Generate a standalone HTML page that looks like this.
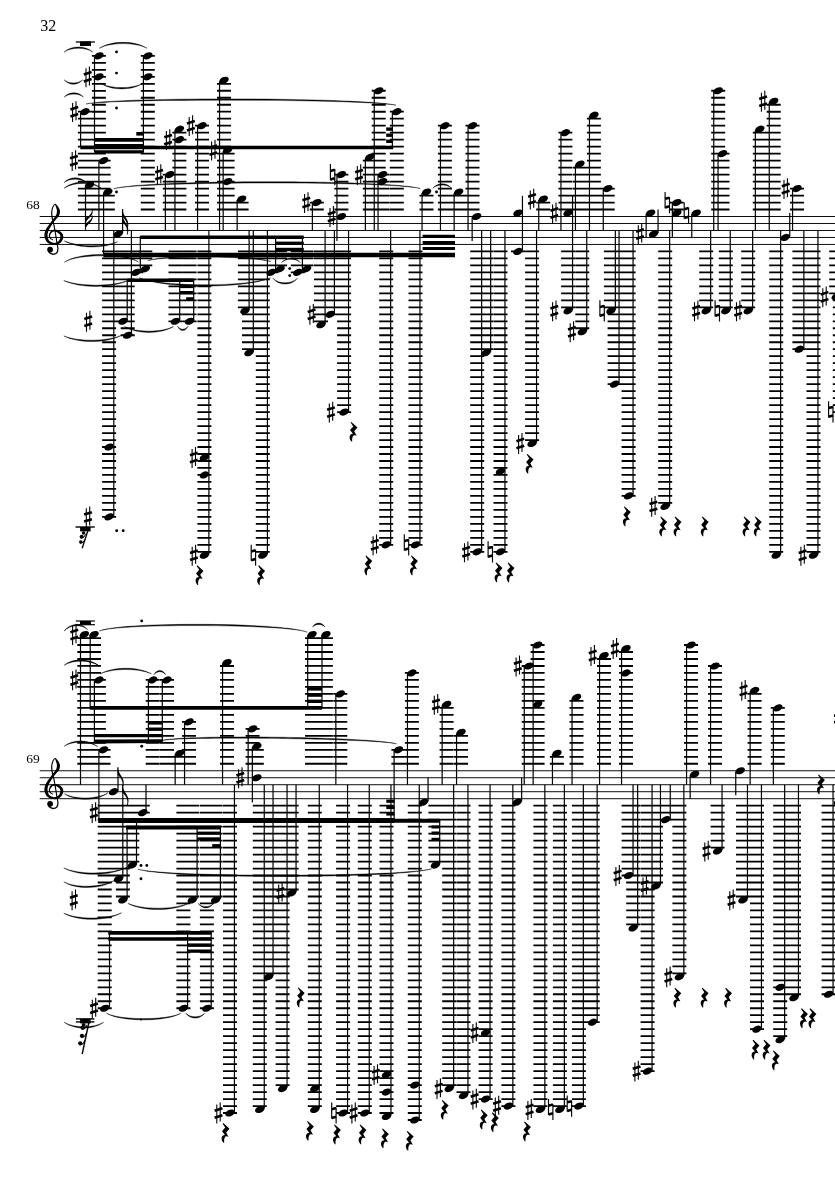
<!DOCTYPE html>
<html><head><meta charset="utf-8"><title>Score page 32</title>
<style>html,body{margin:0;padding:0;background:#fff}svg{display:block}</style></head>
<body><svg width="835" height="1181" viewBox="0 0 835 1181" shape-rendering="geometricPrecision">
<rect width="835" height="1181" fill="#fff"/>
<path d="M84.9 110.82V210.41M98.9 54.95V210.41M147.8 54.95V210.41M89.5 187.66V210.41M103.6 159.72V210.41M107.8 194.64V210.41M169.8 173.69V210.41M179.4 131.78V210.41M202.0 124.79V210.41M224.0 82.88V210.41M227.6 152.73V210.41M241.6 201.63V210.41M316.8 201.63V210.41M341.4 173.69V210.41M369.8 159.72V210.41M378.7 89.87V210.41M382.5 173.69V210.41M396.8 110.82V210.41M426.5 194.64V210.41M444.9 124.79V210.41M458.6 194.64V210.41M472.5 124.79V210.41M518.0 250.53V252.33M543.2 201.63V210.41M565.4 131.78V210.41M568.1 250.53V308.20M579.9 166.70V210.41M593.9 117.81V210.41M607.7 187.66V210.41M676.8 201.63V210.41M718.2 89.87V210.41M722.5 152.73V210.41M759.8 131.78V210.41M773.7 103.84V210.41M797.0 187.66V210.41M109.1 250.53V447.90M109.1 250.53V517.75M123.0 250.53V322.17M123.0 250.53V322.17M127.7 250.53V336.14M127.7 250.53V336.14M136.1 250.53V273.28M136.1 250.53V273.28M145.3 250.53V266.29M175.5 250.53V322.17M175.5 250.53V322.17M189.6 250.53V322.17M189.6 250.53V322.17M204.4 250.53V454.89M204.4 250.53V552.68M244.9 250.53V308.20M244.9 250.53V308.20M249.0 250.53V350.12M249.0 250.53V350.12M262.8 250.53V552.68M262.8 250.53V552.68M271.3 250.53V273.28M271.3 250.53V273.28M280.1 250.53V266.29M297.8 250.53V273.28M297.8 250.53V273.28M306.6 250.53V266.29M321.0 250.53V322.17M321.0 250.53V322.17M330.3 250.53V315.19M330.3 250.53V315.19M344.1 250.53V412.98M344.1 250.53V412.98M386.2 250.53V545.70M386.2 250.53V545.70M415.5 250.53V545.70M415.5 250.53V545.70M477.2 250.53V552.68M477.2 250.53V552.68M486.2 250.53V350.12M486.2 250.53V350.12M500.5 250.53V468.86M500.5 250.53V552.68M532.1 250.53V440.92M532.1 250.53V440.92M582.3 250.53V329.16M582.3 250.53V329.16M610.9 250.53V308.20M610.9 250.53V308.20M614.6 250.53V385.04M614.6 250.53V385.04M628.6 250.53V496.80M628.6 250.53V496.80M665.2 250.53V503.78M665.2 250.53V503.78M706.2 250.53V308.20M706.2 250.53V308.20M725.8 250.53V308.20M725.8 250.53V308.20M748.2 250.53V308.20M748.2 250.53V308.20M776.2 250.53V552.68M776.2 250.53V552.68M799.4 250.53V350.12M799.4 250.53V350.12M813.5 250.53V552.68M813.5 250.53V552.68M836.2 250.53V294.24M836.2 250.53V294.24M839.8 250.53V412.98M84.3 637.13V764.66M94.0 637.13V764.66M98.9 679.04V764.66M152.7 679.04V764.66M167.0 679.04V764.66M103.5 748.89V764.66M142.8 804.77V813.56M142.8 804.77V813.56M179.6 755.88V764.66M189.0 720.96V764.66M227.0 665.08V764.66M252.6 727.94V764.66M256.8 748.89V764.66M312.0 637.13V764.66M325.9 637.13V764.66M340.3 693.01V764.66M398.4 748.89V764.66M411.9 672.06V764.66M446.6 706.99V764.66M461.0 734.93V764.66M528.7 665.08V764.66M537.6 644.12V764.66M556.9 755.88V764.66M576.5 700.00V764.66M604.0 658.09V764.66M626.0 651.11V764.66M691.0 644.12V764.66M715.0 665.08V764.66M754.6 693.01V764.66M777.8 706.99V764.66M104.7 804.77V1009.14M104.7 804.77V1009.14M118.5 804.77V876.42M118.5 804.77V876.42M122.9 804.77V897.38M122.9 804.77V897.38M132.3 804.77V862.46M132.3 804.77V862.46M192.3 804.77V897.38M192.3 804.77V897.38M215.6 804.77V897.38M215.6 804.77V897.38M183.4 804.77V1009.14M183.4 804.77V1009.14M206.9 804.77V1009.14M206.9 804.77V1009.14M230.0 804.77V1113.92M230.0 804.77V1113.92M259.8 804.77V1106.93M259.8 804.77V1106.93M268.6 804.77V974.22M268.6 804.77V974.22M282.6 804.77V1085.98M282.6 804.77V1085.98M291.6 804.77V890.39M291.6 804.77V890.39M314.8 804.77V1085.98M314.8 804.77V1106.93M343.1 804.77V1113.92M343.1 804.77V1113.92M364.8 804.77V1113.92M364.8 804.77V1113.92M386.5 804.77V1072.01M386.5 804.77V1113.92M414.8 804.77V1085.98M414.8 804.77V1120.90M435.4 804.77V862.46M435.4 804.77V862.46M449.2 804.77V1085.98M449.2 804.77V1085.98M463.5 804.77V1092.96M463.5 804.77V1092.96M485.6 804.77V1030.10M485.6 804.77V1099.95M508.4 804.77V1106.93M508.4 804.77V1106.93M540.4 804.77V1106.93M540.4 804.77V1106.93M559.9 804.77V1106.93M559.9 804.77V1106.93M578.9 804.77V1106.93M578.9 804.77V1106.93M592.7 804.77V1023.11M592.7 804.77V1023.11M628.6 804.77V876.42M628.6 804.77V876.42M633.2 804.77V925.32M633.2 804.77V925.32M647.6 804.77V1072.01M647.6 804.77V1072.01M656.0 804.77V883.41M656.0 804.77V883.41M665.8 804.77V820.54M665.8 804.77V820.54M679.4 804.77V974.22M679.4 804.77V974.22M717.6 804.77V848.49M717.6 804.77V848.49M743.0 804.77V897.38M743.0 804.77V897.38M757.0 804.77V1030.10M757.0 804.77V1030.10M780.2 804.77V988.18M780.2 804.77V1037.08M794.0 804.77V995.17M794.0 804.77V995.17M828.6 804.77V995.17M828.6 804.77V995.17" stroke="#000" stroke-width="14.0" stroke-dasharray="1.8 5.1850000000000005" fill="none"/>
<g style="will-change:transform"><text x="40.3" y="31.2" font-family="'Liberation Serif', serif" font-size="16" fill="#000">32</text></g>
<g style="will-change:transform"><text x="26.2" y="209.2" font-family="'Liberation Serif', serif" font-size="13.5" fill="#000">68</text></g>
<g style="will-change:transform"><text x="26.2" y="763.2" font-family="'Liberation Serif', serif" font-size="13.5" fill="#000">69</text></g>
<line x1="39.70" y1="216.50" x2="835.00" y2="216.50" stroke="#000" stroke-width="0.95" stroke-linecap="butt"/>
<line x1="39.70" y1="223.49" x2="835.00" y2="223.49" stroke="#000" stroke-width="0.95" stroke-linecap="butt"/>
<line x1="39.70" y1="230.47" x2="835.00" y2="230.47" stroke="#000" stroke-width="0.95" stroke-linecap="butt"/>
<line x1="39.70" y1="237.46" x2="835.00" y2="237.46" stroke="#000" stroke-width="0.95" stroke-linecap="butt"/>
<line x1="39.70" y1="244.44" x2="835.00" y2="244.44" stroke="#000" stroke-width="0.95" stroke-linecap="butt"/>
<g transform="translate(55.00 237.46)"><path fill="#000" d="M-1.8 2.0 -2.1 1.8 -2.5 1.7 -2.9 1.5 -3.4 1.2 -3.7 1.0 -4.0 0.7 -4.3 0.4 -4.5 0.0 -4.8 -0.4 -4.9 -0.7 -5.0 -1.1 -5.0 -1.6 -4.9 -2.1 -4.7 -2.7 -4.4 -3.3 -4.0 -4.0 -3.6 -4.5 -3.2 -4.9 -2.8 -5.3 -2.3 -5.6 -1.7 -5.8 -1.2 -6.0 -0.6 -6.0 -0.1 -6.0 0.6 -5.8 1.5 -5.4 2.4 -4.9 3.3 -4.3 4.0 -3.7 4.6 -3.2 4.9 -2.7 5.1 -2.3 5.3 -1.8 5.4 -1.3 5.4 -0.8 5.4 -0.3 5.3 0.3 5.1 1.0 4.8 1.7 4.5 2.4 4.1 3.0 3.7 3.5 3.1 4.0 2.4 4.5 1.6 4.9 0.8 5.2 -0.1 5.4 -0.9 5.5 -1.7 5.4 -2.7 5.1 -3.6 4.8 -4.5 4.3 -5.2 3.8 -5.8 3.3 -6.2 2.7 -6.6 1.9 -6.9 1.0 -7.2 0.1 -7.3 -0.9 -7.4 -1.7 -7.5 -2.5 -7.4 -3.3 -7.3 -4.1 -7.1 -4.9 -6.8 -5.8 -6.5 -6.7 -6.1 -7.6 -5.6 -8.5 -5.1 -9.5 -4.5 -10.5 -3.8 -11.4 -3.2 -12.4 -2.6 -13.4 -1.9 -14.3 -1.2 -15.2 -0.6 -16.1 0.1 -17.0 0.7 -17.8 1.3 -18.5 1.9 -19.1 2.5 -19.7 3.0 -20.3 3.6 -21.0 4.0 -21.8 4.4 -22.6 4.6 -23.5 4.8 -24.3 4.9 -25.2 5.0 -26.0 4.9 -26.9 4.7 -27.7 4.4 -28.5 4.0 -29.3 3.6 -30.0 3.2 -30.6 2.8 -31.2 2.4 -31.7 2.0 -32.3 1.5 -32.8 1.1 -33.3 0.5 -33.6 -0.2 -33.7 -0.8 -33.3 -1.3 -32.8 -1.7 -32.1 -2.2 -31.4 -2.6 -30.6 -2.9 -29.8 -3.2 -29.0 -3.4 -28.2 -3.6 -27.3 -3.7 -26.5 -3.8 -25.5 -3.9 -24.6 -3.9 -23.7 -3.8 -22.7 -3.7 -21.8 -3.6 -20.8 -3.4 -19.8 -3.2 -18.7 -3.0 -17.6 -2.7 -16.4 -2.4 -15.2 -2.0 -14.0 -1.7 -12.7 -1.5 -11.5 -1.2 -10.2 -1.0 -8.9 -0.7 -7.6 -0.5 -6.3 -0.3 -5.0 -0.1 -3.6 0.2 -2.2 0.4 -0.7 0.7 0.8 0.9 2.3 1.1 3.7 1.3 5.0 1.6 6.2 1.8 7.4 2.0 8.5 2.2 9.6 2.3 10.5 2.3 11.4 2.2 12.2 2.1 12.9 1.9 13.6 1.7 14.2 1.4 14.7 1.1 15.0 0.7 15.4 0.3 15.7 -0.3 15.9 -0.9 16.1 -1.4 16.1 -1.9 16.1 -2.4 16.0 -3.0 15.8 -3.5 15.5 -4.1 15.2 -4.5 14.8 -4.9 14.5 -5.1 14.3 -5.2 14.0 -5.3 13.7 -5.4 13.4 -5.5 13.0 -5.6 12.8 -7.2 13.4 -7.2 13.6 -7.1 13.9 -6.9 14.3 -6.7 14.8 -6.4 15.2 -5.9 15.7 -5.4 16.0 -4.9 16.4 -4.2 16.8 -3.5 17.1 -2.8 17.3 -2.1 17.5 -1.3 17.4 -0.6 17.3 0.1 17.1 0.9 16.8 1.5 16.4 2.1 16.0 2.5 15.4 2.9 14.7 3.1 14.0 3.3 13.2 3.4 12.3 3.5 11.4 3.5 10.4 3.3 9.4 3.1 8.3 2.9 7.2 2.7 6.0 2.5 4.8 2.2 3.5 2.0 2.1 1.8 0.6 1.5 -0.9 1.3 -2.4 1.1 -3.8 0.8 -5.2 0.6 -6.5 0.4 -7.8 0.1 -9.1 -0.1 -10.4 -0.3 -11.7 -0.6 -13.0 -0.9 -14.2 -1.2 -15.5 -1.5 -16.7 -1.8 -17.8 -2.0 -18.9 -2.2 -20.0 -2.4 -21.0 -2.5 -21.9 -2.6 -22.8 -2.7 -23.7 -2.7 -24.6 -2.7 -25.5 -2.6 -26.3 -2.5 -27.1 -2.3 -27.9 -2.1 -28.7 -1.9 -29.4 -1.6 -30.1 -1.3 -30.9 -0.9 -31.6 -0.5 -32.2 -0.2 -32.6 0.0 -32.7 0.0 -32.7 0.2 -32.4 0.4 -32.0 0.6 -31.5 0.8 -30.8 1.0 -30.2 1.2 -29.6 1.4 -29.0 1.6 -28.3 1.8 -27.7 1.9 -27.1 1.9 -26.5 1.9 -26.0 1.9 -25.4 1.8 -24.8 1.7 -24.2 1.6 -23.6 1.4 -23.0 1.1 -22.5 0.8 -21.9 0.5 -21.3 -0.0 -20.7 -0.5 -20.0 -1.1 -19.2 -1.7 -18.4 -2.4 -17.5 -3.1 -16.6 -3.8 -15.7 -4.5 -14.7 -5.2 -13.8 -5.9 -12.9 -6.6 -11.9 -7.3 -10.9 -8.0 -9.9 -8.6 -8.9 -9.1 -7.9 -9.6 -6.9 -10.0 -5.8 -10.3 -4.8 -10.5 -3.7 -10.6 -2.6 -10.6 -1.5 -10.4 -0.3 -10.1 0.8 -9.6 2.0 -9.1 3.1 -8.4 4.2 -7.6 5.1 -6.6 5.8 -5.5 6.4 -4.4 6.9 -3.2 7.2 -2.0 7.4 -0.9 7.5 0.2 7.5 1.3 7.3 2.4 7.0 3.5 6.6 4.5 6.1 5.3 5.5 6.1 4.7 6.8 3.8 7.3 2.9 7.7 2.0 8.1 1.0 8.2 0.1 8.3 -0.8 8.2 -1.7 8.0 -2.6 7.6 -3.5 7.1 -4.3 6.4 -5.0 5.6 -5.7 4.6 -6.4 3.5 -6.9 2.4 -7.4 1.3 -7.8 0.3 -8.0 -0.7 -8.0 -1.6 -7.8 -2.4 -7.5 -3.2 -7.1 -3.8 -6.6 -4.4 -6.1 -4.9 -5.4 -5.3 -4.7 -5.7 -3.9 -5.9 -3.1 -6.1 -2.4 -6.2 -1.6 -6.2 -1.0 -6.0 -0.4 -5.8 0.2 -5.5 0.7 -5.1 1.1 -4.8 1.5 -4.4 1.8 -3.8 2.1 -3.3 2.4 -2.9 2.6 -2.5 2.7 -2.2 2.8Z"/><circle cx="-4.9" cy="12.1" r="2.9" fill="#000"/></g>
<line x1="39.70" y1="770.75" x2="835.00" y2="770.75" stroke="#000" stroke-width="0.95" stroke-linecap="butt"/>
<line x1="39.70" y1="777.74" x2="835.00" y2="777.74" stroke="#000" stroke-width="0.95" stroke-linecap="butt"/>
<line x1="39.70" y1="784.72" x2="835.00" y2="784.72" stroke="#000" stroke-width="0.95" stroke-linecap="butt"/>
<line x1="39.70" y1="791.71" x2="835.00" y2="791.71" stroke="#000" stroke-width="0.95" stroke-linecap="butt"/>
<line x1="39.70" y1="798.69" x2="835.00" y2="798.69" stroke="#000" stroke-width="0.95" stroke-linecap="butt"/>
<g transform="translate(55.00 791.71)"><path fill="#000" d="M-1.8 2.0 -2.1 1.8 -2.5 1.7 -2.9 1.5 -3.4 1.2 -3.7 1.0 -4.0 0.7 -4.3 0.4 -4.5 0.0 -4.8 -0.4 -4.9 -0.7 -5.0 -1.1 -5.0 -1.6 -4.9 -2.1 -4.7 -2.7 -4.4 -3.3 -4.0 -4.0 -3.6 -4.5 -3.2 -4.9 -2.8 -5.3 -2.3 -5.6 -1.7 -5.8 -1.2 -6.0 -0.6 -6.0 -0.1 -6.0 0.6 -5.8 1.5 -5.4 2.4 -4.9 3.3 -4.3 4.0 -3.7 4.6 -3.2 4.9 -2.7 5.1 -2.3 5.3 -1.8 5.4 -1.3 5.4 -0.8 5.4 -0.3 5.3 0.3 5.1 1.0 4.8 1.7 4.5 2.4 4.1 3.0 3.7 3.5 3.1 4.0 2.4 4.5 1.6 4.9 0.8 5.2 -0.1 5.4 -0.9 5.5 -1.7 5.4 -2.7 5.1 -3.6 4.8 -4.5 4.3 -5.2 3.8 -5.8 3.3 -6.2 2.7 -6.6 1.9 -6.9 1.0 -7.2 0.1 -7.3 -0.9 -7.4 -1.7 -7.5 -2.5 -7.4 -3.3 -7.3 -4.1 -7.1 -4.9 -6.8 -5.8 -6.5 -6.7 -6.1 -7.6 -5.6 -8.5 -5.1 -9.5 -4.5 -10.5 -3.8 -11.4 -3.2 -12.4 -2.6 -13.4 -1.9 -14.3 -1.2 -15.2 -0.6 -16.1 0.1 -17.0 0.7 -17.8 1.3 -18.5 1.9 -19.1 2.5 -19.7 3.0 -20.3 3.6 -21.0 4.0 -21.8 4.4 -22.6 4.6 -23.5 4.8 -24.3 4.9 -25.2 5.0 -26.0 4.9 -26.9 4.7 -27.7 4.4 -28.5 4.0 -29.3 3.6 -30.0 3.2 -30.6 2.8 -31.2 2.4 -31.7 2.0 -32.3 1.5 -32.8 1.1 -33.3 0.5 -33.6 -0.2 -33.7 -0.8 -33.3 -1.3 -32.8 -1.7 -32.1 -2.2 -31.4 -2.6 -30.6 -2.9 -29.8 -3.2 -29.0 -3.4 -28.2 -3.6 -27.3 -3.7 -26.5 -3.8 -25.5 -3.9 -24.6 -3.9 -23.7 -3.8 -22.7 -3.7 -21.8 -3.6 -20.8 -3.4 -19.8 -3.2 -18.7 -3.0 -17.6 -2.7 -16.4 -2.4 -15.2 -2.0 -14.0 -1.7 -12.7 -1.5 -11.5 -1.2 -10.2 -1.0 -8.9 -0.7 -7.6 -0.5 -6.3 -0.3 -5.0 -0.1 -3.6 0.2 -2.2 0.4 -0.7 0.7 0.8 0.9 2.3 1.1 3.7 1.3 5.0 1.6 6.2 1.8 7.4 2.0 8.5 2.2 9.6 2.3 10.5 2.3 11.4 2.2 12.2 2.1 12.9 1.9 13.6 1.7 14.2 1.4 14.7 1.1 15.0 0.7 15.4 0.3 15.7 -0.3 15.9 -0.9 16.1 -1.4 16.1 -1.9 16.1 -2.4 16.0 -3.0 15.8 -3.5 15.5 -4.1 15.2 -4.5 14.8 -4.9 14.5 -5.1 14.3 -5.2 14.0 -5.3 13.7 -5.4 13.4 -5.5 13.0 -5.6 12.8 -7.2 13.4 -7.2 13.6 -7.1 13.9 -6.9 14.3 -6.7 14.8 -6.4 15.2 -5.9 15.7 -5.4 16.0 -4.9 16.4 -4.2 16.8 -3.5 17.1 -2.8 17.3 -2.1 17.5 -1.3 17.4 -0.6 17.3 0.1 17.1 0.9 16.8 1.5 16.4 2.1 16.0 2.5 15.4 2.9 14.7 3.1 14.0 3.3 13.2 3.4 12.3 3.5 11.4 3.5 10.4 3.3 9.4 3.1 8.3 2.9 7.2 2.7 6.0 2.5 4.8 2.2 3.5 2.0 2.1 1.8 0.6 1.5 -0.9 1.3 -2.4 1.1 -3.8 0.8 -5.2 0.6 -6.5 0.4 -7.8 0.1 -9.1 -0.1 -10.4 -0.3 -11.7 -0.6 -13.0 -0.9 -14.2 -1.2 -15.5 -1.5 -16.7 -1.8 -17.8 -2.0 -18.9 -2.2 -20.0 -2.4 -21.0 -2.5 -21.9 -2.6 -22.8 -2.7 -23.7 -2.7 -24.6 -2.7 -25.5 -2.6 -26.3 -2.5 -27.1 -2.3 -27.9 -2.1 -28.7 -1.9 -29.4 -1.6 -30.1 -1.3 -30.9 -0.9 -31.6 -0.5 -32.2 -0.2 -32.6 0.0 -32.7 0.0 -32.7 0.2 -32.4 0.4 -32.0 0.6 -31.5 0.8 -30.8 1.0 -30.2 1.2 -29.6 1.4 -29.0 1.6 -28.3 1.8 -27.7 1.9 -27.1 1.9 -26.5 1.9 -26.0 1.9 -25.4 1.8 -24.8 1.7 -24.2 1.6 -23.6 1.4 -23.0 1.1 -22.5 0.8 -21.9 0.5 -21.3 -0.0 -20.7 -0.5 -20.0 -1.1 -19.2 -1.7 -18.4 -2.4 -17.5 -3.1 -16.6 -3.8 -15.7 -4.5 -14.7 -5.2 -13.8 -5.9 -12.9 -6.6 -11.9 -7.3 -10.9 -8.0 -9.9 -8.6 -8.9 -9.1 -7.9 -9.6 -6.9 -10.0 -5.8 -10.3 -4.8 -10.5 -3.7 -10.6 -2.6 -10.6 -1.5 -10.4 -0.3 -10.1 0.8 -9.6 2.0 -9.1 3.1 -8.4 4.2 -7.6 5.1 -6.6 5.8 -5.5 6.4 -4.4 6.9 -3.2 7.2 -2.0 7.4 -0.9 7.5 0.2 7.5 1.3 7.3 2.4 7.0 3.5 6.6 4.5 6.1 5.3 5.5 6.1 4.7 6.8 3.8 7.3 2.9 7.7 2.0 8.1 1.0 8.2 0.1 8.3 -0.8 8.2 -1.7 8.0 -2.6 7.6 -3.5 7.1 -4.3 6.4 -5.0 5.6 -5.7 4.6 -6.4 3.5 -6.9 2.4 -7.4 1.3 -7.8 0.3 -8.0 -0.7 -8.0 -1.6 -7.8 -2.4 -7.5 -3.2 -7.1 -3.8 -6.6 -4.4 -6.1 -4.9 -5.4 -5.3 -4.7 -5.7 -3.9 -5.9 -3.1 -6.1 -2.4 -6.2 -1.6 -6.2 -1.0 -6.0 -0.4 -5.8 0.2 -5.5 0.7 -5.1 1.1 -4.8 1.5 -4.4 1.8 -3.8 2.1 -3.3 2.4 -2.9 2.6 -2.5 2.7 -2.2 2.8Z"/><circle cx="-4.9" cy="12.1" r="2.9" fill="#000"/></g>
<line x1="75.80" y1="42.00" x2="94.90" y2="42.00" stroke="#000" stroke-width="1.3" stroke-linecap="butt"/>
<rect x="80.00" y="41.40" width="11.00" height="4.60" fill="#000"/>
<path d="M64.20 52.00C71.33 47.07 85.58 47.07 92.70 52.00C85.58 45.37 71.33 45.37 64.20 52.00Z" fill="#000" stroke="#000" stroke-width="0.4"/>
<path d="M64.20 79.80C68.80 84.07 78.00 84.07 82.60 79.80C78.00 85.77 68.80 85.77 64.20 79.80Z" fill="#000" stroke="#000" stroke-width="0.4"/>
<path d="M64.20 97.10C69.03 93.10 78.67 93.10 83.50 97.10C78.67 91.40 69.03 91.40 64.20 97.10Z" fill="#000" stroke="#000" stroke-width="0.4"/>
<ellipse cx="84.90" cy="111.72" rx="5.0" ry="3.25" transform="rotate(-24 84.90 111.72)" fill="#000"/>
<line x1="80.60" y1="112.72" x2="80.60" y2="147.00" stroke="#000" stroke-width="1.2" stroke-linecap="butt"/>
<g transform="translate(74.30 111.72)" stroke="#000" fill="none"><path d="M-1.7 -8.6V10.4M1.7 -10.4V8.6" stroke-width="1.1"/><path d="M-3.9 -2.3L3.9 -4.7M-3.9 4.7L3.9 2.3" stroke-width="2.6"/></g>
<ellipse cx="98.90" cy="55.84" rx="5.0" ry="3.25" transform="rotate(-24 98.90 55.84)" fill="#000"/>
<ellipse cx="98.90" cy="76.80" rx="5.0" ry="3.25" transform="rotate(-24 98.90 76.80)" fill="#000"/>
<line x1="94.50" y1="56.84" x2="94.50" y2="152.00" stroke="#000" stroke-width="1.2" stroke-linecap="butt"/>
<g transform="translate(87.70 76.80)" stroke="#000" fill="none"><path d="M-1.7 -8.6V10.4M1.7 -10.4V8.6" stroke-width="1.1"/><path d="M-3.9 -2.3L3.9 -4.7M-3.9 4.7L3.9 2.3" stroke-width="2.6"/></g>
<ellipse cx="147.80" cy="55.84" rx="5.0" ry="3.25" transform="rotate(-24 147.80 55.84)" fill="#000"/>
<ellipse cx="147.80" cy="76.80" rx="5.0" ry="3.25" transform="rotate(-24 147.80 76.80)" fill="#000"/>
<line x1="143.40" y1="56.84" x2="143.40" y2="152.00" stroke="#000" stroke-width="1.2" stroke-linecap="butt"/>
<path d="M99.40 48.20C111.28 42.07 135.03 42.07 146.90 48.20C135.03 40.37 111.28 40.37 99.40 48.20Z" fill="#000" stroke="#000" stroke-width="0.4"/>
<path d="M100.50 83.20C111.12 89.07 132.38 89.07 143.00 83.20C132.38 90.77 111.12 90.77 100.50 83.20Z" fill="#000" stroke="#000" stroke-width="0.4"/>
<circle cx="116.50" cy="51.90" r="1.45" fill="#000"/>
<circle cx="116.50" cy="73.10" r="1.45" fill="#000"/>
<circle cx="116.50" cy="108.00" r="1.45" fill="#000"/>
<polygon points="80.30,145.80 393.20,145.80 393.20,149.30 80.30,149.30" fill="#000"/>
<polygon points="94.40,138.10 143.80,138.10 143.80,141.70 94.40,141.70" fill="#000"/>
<polygon points="94.40,144.10 143.80,144.10 143.80,147.60 94.40,147.60" fill="#000"/>
<polygon points="94.40,150.30 143.80,150.30 143.80,153.50 94.40,153.50" fill="#000"/>
<polygon points="136.30,132.00 143.80,132.00 143.80,135.60 136.30,135.60" fill="#000"/>
<polygon points="386.20,127.40 393.00,127.40 393.00,130.80 386.20,130.80" fill="#000"/>
<polygon points="386.20,133.50 393.00,133.50 393.00,136.90 386.20,136.90" fill="#000"/>
<polygon points="386.20,139.60 393.00,139.60 393.00,143.00 386.20,143.00" fill="#000"/>
<path d="M86.00 104.00C117.00 98.25 365.00 99.21 396.00 105.20C365.00 97.51 117.00 96.55 86.00 104.00Z" fill="#000" stroke="#000" stroke-width="0.4"/>
<path d="M113.70 188.70C144.35 181.21 389.55 181.05 420.20 188.50C389.55 179.35 144.35 179.51 113.70 188.70Z" fill="#000" stroke="#000" stroke-width="0.4"/>
<ellipse cx="89.50" cy="185.07" rx="5.0" ry="3.25" transform="rotate(-24 89.50 185.07)" fill="#000"/>
<line x1="85.50" y1="186.07" x2="85.50" y2="229.80" stroke="#000" stroke-width="1.2" stroke-linecap="butt"/>
<path fill="#000" d="M85.00 229.80c0.4 -3 3 -5 5.4 -7.6c2.2 -2.6 2.6 -4.6 2.2 -6.8l-0.7 0c0.2 2.2 -0.8 3.6 -2.4 5.2c-1.6 1.6 -3.4 2.4 -4.5 3z"/>
<path fill="#000" d="M85.00 224.40c0.4 -3 3 -5 5.4 -7.6c2.2 -2.6 2.6 -4.6 2.2 -6.8l-0.7 0c0.2 2.2 -0.8 3.6 -2.4 5.2c-1.6 1.6 -3.4 2.4 -4.5 3z"/>
<ellipse cx="103.60" cy="160.62" rx="5.0" ry="3.25" transform="rotate(-24 103.60 160.62)" fill="#000"/>
<line x1="98.90" y1="161.62" x2="98.90" y2="230.47" stroke="#000" stroke-width="1.2" stroke-linecap="butt"/>
<g transform="translate(73.90 160.62)" stroke="#000" fill="none"><path d="M-1.7 -8.6V10.4M1.7 -10.4V8.6" stroke-width="1.1"/><path d="M-3.9 -2.3L3.9 -4.7M-3.9 4.7L3.9 2.3" stroke-width="2.6"/></g>
<ellipse cx="107.80" cy="192.05" rx="5.0" ry="3.25" transform="rotate(-24 107.80 192.05)" fill="#000"/>
<line x1="103.60" y1="193.05" x2="103.60" y2="254.00" stroke="#000" stroke-width="1.2" stroke-linecap="butt"/>
<circle cx="116.50" cy="192.00" r="1.45" fill="#000"/>
<path d="M64.20 182.50C69.85 177.82 81.15 178.07 86.80 183.00C81.15 176.38 69.85 176.12 64.20 182.50Z" fill="#000" stroke="#000" stroke-width="0.4"/>
<path d="M64.20 188.20C73.65 181.68 92.55 181.98 102.00 188.80C92.55 180.28 73.65 179.98 64.20 188.20Z" fill="#000" stroke="#000" stroke-width="0.4"/>
<ellipse cx="118.30" cy="233.96" rx="5.0" ry="3.25" transform="rotate(-24 118.30 233.96)" fill="#000"/>
<line x1="122.60" y1="232.96" x2="122.60" y2="209.00" stroke="#000" stroke-width="1.2" stroke-linecap="butt"/>
<path fill="#000" d="M122.10 209.00c0.3 3.5 2.5 6.5 4.6 10c2 3.5 2.1 7 0.7 10.4l-0.7 -0.2c1 -3.2 0.6 -6.2 -1.2 -8.8c-1.2 -2 -2.6 -3.2 -3.4 -3.8z"/>
<path fill="#000" d="M122.10 214.40c0.3 3.5 2.5 6.5 4.6 10c2 3.5 2.1 7 0.7 10.4l-0.7 -0.2c1 -3.2 0.6 -6.2 -1.2 -8.8c-1.2 -2 -2.6 -3.2 -3.4 -3.8z"/>
<path d="M64.40 241.00C77.68 246.93 104.22 247.33 117.50 241.80C104.22 249.03 77.68 248.63 64.40 241.00Z" fill="#000" stroke="#000" stroke-width="0.4"/>
<ellipse cx="169.80" cy="174.59" rx="5.0" ry="3.25" transform="rotate(-24 169.80 174.59)" fill="#000"/>
<line x1="165.35" y1="175.59" x2="165.35" y2="230.47" stroke="#000" stroke-width="1.2" stroke-linecap="butt"/>
<g transform="translate(159.10 174.59)" stroke="#000" fill="none"><path d="M-1.7 -8.6V10.4M1.7 -10.4V8.6" stroke-width="1.1"/><path d="M-3.9 -2.3L3.9 -4.7M-3.9 4.7L3.9 2.3" stroke-width="2.6"/></g>
<ellipse cx="179.40" cy="129.19" rx="5.0" ry="3.25" transform="rotate(-24 179.40 129.19)" fill="#000"/>
<ellipse cx="179.40" cy="139.66" rx="5.0" ry="3.25" transform="rotate(-24 179.40 139.66)" fill="#000"/>
<line x1="174.95" y1="130.19" x2="174.95" y2="230.47" stroke="#000" stroke-width="1.2" stroke-linecap="butt"/>
<g transform="translate(168.10 139.66)" stroke="#000" fill="none"><path d="M-1.7 -8.6V10.4M1.7 -10.4V8.6" stroke-width="1.1"/><path d="M-3.9 -2.3L3.9 -4.7M-3.9 4.7L3.9 2.3" stroke-width="2.6"/></g>
<ellipse cx="202.00" cy="125.69" rx="5.0" ry="3.25" transform="rotate(-24 202.00 125.69)" fill="#000"/>
<line x1="197.55" y1="126.69" x2="197.55" y2="230.47" stroke="#000" stroke-width="1.2" stroke-linecap="butt"/>
<g transform="translate(190.90 125.69)" stroke="#000" fill="none"><path d="M-1.7 -8.6V10.4M1.7 -10.4V8.6" stroke-width="1.1"/><path d="M-3.9 -2.3L3.9 -4.7M-3.9 4.7L3.9 2.3" stroke-width="2.6"/></g>
<ellipse cx="224.00" cy="80.29" rx="5.0" ry="3.25" transform="rotate(-24 224.00 80.29)" fill="#000"/>
<line x1="219.55" y1="81.29" x2="219.55" y2="230.47" stroke="#000" stroke-width="1.2" stroke-linecap="butt"/>
<ellipse cx="227.60" cy="150.14" rx="5.0" ry="3.25" transform="rotate(-24 227.60 150.14)" fill="#000"/>
<ellipse cx="227.60" cy="181.57" rx="5.0" ry="3.25" transform="rotate(-24 227.60 181.57)" fill="#000"/>
<line x1="223.15" y1="151.14" x2="223.15" y2="230.47" stroke="#000" stroke-width="1.2" stroke-linecap="butt"/>
<g transform="translate(213.30 150.14)" stroke="#000" fill="none"><path d="M-1.7 -8.6V10.4M1.7 -10.4V8.6" stroke-width="1.1"/><path d="M-3.9 -2.3L3.9 -4.7M-3.9 4.7L3.9 2.3" stroke-width="2.6"/></g>
<ellipse cx="241.60" cy="199.04" rx="5.0" ry="3.25" transform="rotate(-24 241.60 199.04)" fill="#000"/>
<line x1="237.15" y1="200.04" x2="237.15" y2="230.47" stroke="#000" stroke-width="1.2" stroke-linecap="butt"/>
<ellipse cx="316.80" cy="202.53" rx="5.0" ry="3.25" transform="rotate(-24 316.80 202.53)" fill="#000"/>
<line x1="312.35" y1="203.53" x2="312.35" y2="230.47" stroke="#000" stroke-width="1.2" stroke-linecap="butt"/>
<g transform="translate(306.30 202.53)" stroke="#000" fill="none"><path d="M-1.7 -8.6V10.4M1.7 -10.4V8.6" stroke-width="1.1"/><path d="M-3.9 -2.3L3.9 -4.7M-3.9 4.7L3.9 2.3" stroke-width="2.6"/></g>
<ellipse cx="341.40" cy="174.59" rx="5.0" ry="3.25" transform="rotate(-24 341.40 174.59)" fill="#000"/>
<ellipse cx="341.40" cy="216.50" rx="5.0" ry="3.25" transform="rotate(-24 341.40 216.50)" fill="#000"/>
<line x1="336.95" y1="175.59" x2="336.95" y2="240.95" stroke="#000" stroke-width="1.2" stroke-linecap="butt"/>
<g transform="translate(332.60 174.59)" stroke="#000" fill="none"><path d="M-2.2 -10.6V5.6M2.2 -5.6V10.6" stroke-width="1.15"/><path d="M-2.2 4.9L2.2 3.7M-2.2 -3.7L2.2 -4.9" stroke-width="2.6"/></g>
<g transform="translate(331.70 216.50)" stroke="#000" fill="none"><path d="M-1.7 -8.6V10.4M1.7 -10.4V8.6" stroke-width="1.1"/><path d="M-3.9 -2.3L3.9 -4.7M-3.9 4.7L3.9 2.3" stroke-width="2.6"/></g>
<ellipse cx="369.80" cy="157.13" rx="5.0" ry="3.25" transform="rotate(-24 369.80 157.13)" fill="#000"/>
<line x1="365.35" y1="158.13" x2="365.35" y2="230.47" stroke="#000" stroke-width="1.2" stroke-linecap="butt"/>
<ellipse cx="378.70" cy="90.77" rx="5.0" ry="3.25" transform="rotate(-24 378.70 90.77)" fill="#000"/>
<line x1="374.25" y1="91.77" x2="374.25" y2="230.47" stroke="#000" stroke-width="1.2" stroke-linecap="butt"/>
<ellipse cx="382.50" cy="174.59" rx="5.0" ry="3.25" transform="rotate(-24 382.50 174.59)" fill="#000"/>
<ellipse cx="382.50" cy="181.57" rx="5.0" ry="3.25" transform="rotate(-24 382.50 181.57)" fill="#000"/>
<line x1="378.05" y1="175.59" x2="378.05" y2="230.47" stroke="#000" stroke-width="1.2" stroke-linecap="butt"/>
<g transform="translate(359.00 174.59)" stroke="#000" fill="none"><path d="M-1.7 -8.6V10.4M1.7 -10.4V8.6" stroke-width="1.1"/><path d="M-3.9 -2.3L3.9 -4.7M-3.9 4.7L3.9 2.3" stroke-width="2.6"/></g>
<ellipse cx="396.80" cy="111.72" rx="5.0" ry="3.25" transform="rotate(-24 396.80 111.72)" fill="#000"/>
<line x1="392.35" y1="112.72" x2="392.35" y2="148.00" stroke="#000" stroke-width="1.2" stroke-linecap="butt"/>
<ellipse cx="426.50" cy="192.05" rx="5.0" ry="3.25" transform="rotate(-24 426.50 192.05)" fill="#000"/>
<line x1="422.05" y1="193.05" x2="422.05" y2="230.47" stroke="#000" stroke-width="1.2" stroke-linecap="butt"/>
<circle cx="436.50" cy="192.00" r="1.45" fill="#000"/>
<path d="M432.80 188.30C437.50 184.03 446.90 184.03 451.60 188.30C446.90 182.33 437.50 182.33 432.80 188.30Z" fill="#000" stroke="#000" stroke-width="0.4"/>
<ellipse cx="444.90" cy="125.69" rx="5.0" ry="3.25" transform="rotate(-24 444.90 125.69)" fill="#000"/>
<line x1="440.45" y1="126.69" x2="440.45" y2="230.47" stroke="#000" stroke-width="1.2" stroke-linecap="butt"/>
<ellipse cx="458.60" cy="192.05" rx="5.0" ry="3.25" transform="rotate(-24 458.60 192.05)" fill="#000"/>
<line x1="454.15" y1="193.05" x2="454.15" y2="230.47" stroke="#000" stroke-width="1.2" stroke-linecap="butt"/>
<ellipse cx="472.50" cy="125.69" rx="5.0" ry="3.25" transform="rotate(-24 472.50 125.69)" fill="#000"/>
<line x1="468.05" y1="126.69" x2="468.05" y2="230.47" stroke="#000" stroke-width="1.2" stroke-linecap="butt"/>
<ellipse cx="476.60" cy="216.50" rx="5.0" ry="3.25" transform="rotate(-24 476.60 216.50)" fill="#000"/>
<line x1="472.15" y1="217.50" x2="472.15" y2="240.95" stroke="#000" stroke-width="1.2" stroke-linecap="butt"/>
<ellipse cx="518.00" cy="213.01" rx="5.0" ry="3.25" transform="rotate(-24 518.00 213.01)" fill="#000"/>
<ellipse cx="518.00" cy="251.43" rx="5.0" ry="3.25" transform="rotate(-24 518.00 251.43)" fill="#000"/>
<line x1="522.45" y1="250.43" x2="522.45" y2="195.80" stroke="#000" stroke-width="1.2" stroke-linecap="butt"/>
<ellipse cx="543.20" cy="199.04" rx="5.0" ry="3.25" transform="rotate(-24 543.20 199.04)" fill="#000"/>
<line x1="538.75" y1="200.04" x2="538.75" y2="230.47" stroke="#000" stroke-width="1.2" stroke-linecap="butt"/>
<g transform="translate(532.00 199.04)" stroke="#000" fill="none"><path d="M-1.7 -8.6V10.4M1.7 -10.4V8.6" stroke-width="1.1"/><path d="M-3.9 -2.3L3.9 -4.7M-3.9 4.7L3.9 2.3" stroke-width="2.6"/></g>
<ellipse cx="565.40" cy="132.68" rx="5.0" ry="3.25" transform="rotate(-24 565.40 132.68)" fill="#000"/>
<line x1="560.95" y1="133.68" x2="560.95" y2="230.47" stroke="#000" stroke-width="1.2" stroke-linecap="butt"/>
<ellipse cx="568.10" cy="213.01" rx="5.0" ry="3.25" transform="rotate(-24 568.10 213.01)" fill="#000"/>
<ellipse cx="568.10" cy="310.80" rx="5.0" ry="3.25" transform="rotate(-24 568.10 310.80)" fill="#000"/>
<line x1="572.55" y1="309.80" x2="572.55" y2="195.00" stroke="#000" stroke-width="1.2" stroke-linecap="butt"/>
<g transform="translate(554.30 213.01)" stroke="#000" fill="none"><path d="M-1.7 -8.6V10.4M1.7 -10.4V8.6" stroke-width="1.1"/><path d="M-3.9 -2.3L3.9 -4.7M-3.9 4.7L3.9 2.3" stroke-width="2.6"/></g>
<g transform="translate(554.30 310.80)" stroke="#000" fill="none"><path d="M-1.7 -8.6V10.4M1.7 -10.4V8.6" stroke-width="1.1"/><path d="M-3.9 -2.3L3.9 -4.7M-3.9 4.7L3.9 2.3" stroke-width="2.6"/></g>
<ellipse cx="579.90" cy="164.11" rx="5.0" ry="3.25" transform="rotate(-24 579.90 164.11)" fill="#000"/>
<line x1="575.45" y1="165.11" x2="575.45" y2="230.47" stroke="#000" stroke-width="1.2" stroke-linecap="butt"/>
<ellipse cx="593.90" cy="115.22" rx="5.0" ry="3.25" transform="rotate(-24 593.90 115.22)" fill="#000"/>
<line x1="589.45" y1="116.22" x2="589.45" y2="230.47" stroke="#000" stroke-width="1.2" stroke-linecap="butt"/>
<ellipse cx="607.70" cy="188.56" rx="5.0" ry="3.25" transform="rotate(-24 607.70 188.56)" fill="#000"/>
<line x1="603.25" y1="189.56" x2="603.25" y2="230.47" stroke="#000" stroke-width="1.2" stroke-linecap="butt"/>
<ellipse cx="650.60" cy="213.01" rx="5.0" ry="3.25" transform="rotate(-24 650.60 213.01)" fill="#000"/>
<line x1="646.15" y1="214.01" x2="646.15" y2="237.45" stroke="#000" stroke-width="1.2" stroke-linecap="butt"/>
<ellipse cx="653.60" cy="233.96" rx="5.0" ry="3.25" transform="rotate(-24 653.60 233.96)" fill="#000"/>
<line x1="658.05" y1="232.96" x2="658.05" y2="209.52" stroke="#000" stroke-width="1.2" stroke-linecap="butt"/>
<g transform="translate(640.00 233.96)" stroke="#000" fill="none"><path d="M-1.7 -8.6V10.4M1.7 -10.4V8.6" stroke-width="1.1"/><path d="M-3.9 -2.3L3.9 -4.7M-3.9 4.7L3.9 2.3" stroke-width="2.6"/></g>
<ellipse cx="676.80" cy="202.53" rx="5.0" ry="3.25" transform="rotate(-24 676.80 202.53)" fill="#000"/>
<ellipse cx="676.80" cy="213.01" rx="5.0" ry="3.25" transform="rotate(-24 676.80 213.01)" fill="#000"/>
<line x1="672.35" y1="203.53" x2="672.35" y2="237.45" stroke="#000" stroke-width="1.2" stroke-linecap="butt"/>
<g transform="translate(667.30 202.53)" stroke="#000" fill="none"><path d="M-2.2 -10.6V5.6M2.2 -5.6V10.6" stroke-width="1.15"/><path d="M-2.2 4.9L2.2 3.7M-2.2 -3.7L2.2 -4.9" stroke-width="2.6"/></g>
<ellipse cx="696.20" cy="213.01" rx="5.0" ry="3.25" transform="rotate(-24 696.20 213.01)" fill="#000"/>
<line x1="691.75" y1="214.01" x2="691.75" y2="237.45" stroke="#000" stroke-width="1.2" stroke-linecap="butt"/>
<g transform="translate(686.40 213.01)" stroke="#000" fill="none"><path d="M-2.2 -10.6V5.6M2.2 -5.6V10.6" stroke-width="1.15"/><path d="M-2.2 4.9L2.2 3.7M-2.2 -3.7L2.2 -4.9" stroke-width="2.6"/></g>
<ellipse cx="718.20" cy="90.77" rx="5.0" ry="3.25" transform="rotate(-24 718.20 90.77)" fill="#000"/>
<line x1="713.75" y1="91.77" x2="713.75" y2="230.47" stroke="#000" stroke-width="1.2" stroke-linecap="butt"/>
<ellipse cx="722.50" cy="153.63" rx="5.0" ry="3.25" transform="rotate(-24 722.50 153.63)" fill="#000"/>
<line x1="718.05" y1="154.63" x2="718.05" y2="230.47" stroke="#000" stroke-width="1.2" stroke-linecap="butt"/>
<ellipse cx="759.80" cy="129.19" rx="5.0" ry="3.25" transform="rotate(-24 759.80 129.19)" fill="#000"/>
<line x1="755.35" y1="130.19" x2="755.35" y2="230.47" stroke="#000" stroke-width="1.2" stroke-linecap="butt"/>
<ellipse cx="773.70" cy="101.25" rx="5.0" ry="3.25" transform="rotate(-24 773.70 101.25)" fill="#000"/>
<line x1="769.25" y1="102.25" x2="769.25" y2="230.47" stroke="#000" stroke-width="1.2" stroke-linecap="butt"/>
<g transform="translate(763.10 101.25)" stroke="#000" fill="none"><path d="M-1.7 -8.6V10.4M1.7 -10.4V8.6" stroke-width="1.1"/><path d="M-3.9 -2.3L3.9 -4.7M-3.9 4.7L3.9 2.3" stroke-width="2.6"/></g>
<ellipse cx="785.30" cy="237.46" rx="5.0" ry="3.25" transform="rotate(-24 785.30 237.46)" fill="#000"/>
<line x1="789.75" y1="236.46" x2="789.75" y2="213.01" stroke="#000" stroke-width="1.2" stroke-linecap="butt"/>
<ellipse cx="797.00" cy="188.56" rx="5.0" ry="3.25" transform="rotate(-24 797.00 188.56)" fill="#000"/>
<line x1="792.55" y1="189.56" x2="792.55" y2="230.47" stroke="#000" stroke-width="1.2" stroke-linecap="butt"/>
<g transform="translate(785.70 188.56)" stroke="#000" fill="none"><path d="M-1.7 -8.6V10.4M1.7 -10.4V8.6" stroke-width="1.1"/><path d="M-3.9 -2.3L3.9 -4.7M-3.9 4.7L3.9 2.3" stroke-width="2.6"/></g>
<polygon points="140.30,235.50 303.80,235.50 303.80,238.90 140.30,238.90" fill="#000"/>
<polygon points="103.40,252.80 455.00,252.80 455.00,257.30 103.40,257.30" fill="#000"/>
<polygon points="127.20,278.60 193.70,278.60 193.70,282.10 127.20,282.10" fill="#000"/>
<polygon points="179.70,284.70 193.70,284.70 193.70,288.10 179.70,288.10" fill="#000"/>
<polygon points="179.70,291.00 193.70,291.00 193.70,294.40 179.70,294.40" fill="#000"/>
<polygon points="186.20,297.20 193.70,297.20 193.70,300.40 186.20,300.40" fill="#000"/>
<polygon points="275.80,241.60 303.80,241.60 303.80,244.90 275.80,244.90" fill="#000"/>
<polygon points="275.80,247.80 303.80,247.80 303.80,251.20 275.80,251.20" fill="#000"/>
<polygon points="422.60,234.80 455.00,234.80 455.00,237.90 422.60,237.90" fill="#000"/>
<polygon points="422.60,240.90 455.00,240.90 455.00,244.40 422.60,244.40" fill="#000"/>
<polygon points="422.60,247.00 455.00,247.00 455.00,250.10 422.60,250.10" fill="#000"/>
<ellipse cx="109.10" cy="447.00" rx="5.0" ry="3.25" transform="rotate(-24 109.10 447.00)" fill="#000"/>
<ellipse cx="109.10" cy="516.86" rx="5.0" ry="3.25" transform="rotate(-24 109.10 516.86)" fill="#000"/>
<line x1="113.80" y1="515.86" x2="113.80" y2="230.47" stroke="#000" stroke-width="1.2" stroke-linecap="butt"/>
<g transform="translate(88.00 516.86)" stroke="#000" fill="none"><path d="M-1.7 -8.6V10.4M1.7 -10.4V8.6" stroke-width="1.1"/><path d="M-3.9 -2.3L3.9 -4.7M-3.9 4.7L3.9 2.3" stroke-width="2.6"/></g>
<circle cx="116.70" cy="530.80" r="1.45" fill="#000"/>
<circle cx="123.20" cy="530.80" r="1.45" fill="#000"/>
<ellipse cx="123.00" cy="321.27" rx="5.0" ry="3.25" transform="rotate(-24 123.00 321.27)" fill="#000"/>
<line x1="127.20" y1="320.27" x2="127.20" y2="279.00" stroke="#000" stroke-width="1.2" stroke-linecap="butt"/>
<g transform="translate(88.20 321.27)" stroke="#000" fill="none"><path d="M-1.7 -8.6V10.4M1.7 -10.4V8.6" stroke-width="1.1"/><path d="M-3.9 -2.3L3.9 -4.7M-3.9 4.7L3.9 2.3" stroke-width="2.6"/></g>
<ellipse cx="127.70" cy="335.25" rx="5.0" ry="3.25" transform="rotate(-24 127.70 335.25)" fill="#000"/>
<line x1="131.40" y1="334.25" x2="131.40" y2="230.47" stroke="#000" stroke-width="1.2" stroke-linecap="butt"/>
<ellipse cx="136.10" cy="272.38" rx="5.0" ry="3.25" transform="rotate(-24 136.10 272.38)" fill="#000"/>
<line x1="140.30" y1="271.38" x2="140.30" y2="236.00" stroke="#000" stroke-width="1.2" stroke-linecap="butt"/>
<ellipse cx="145.30" cy="268.89" rx="5.0" ry="3.25" transform="rotate(-24 145.30 268.89)" fill="#000"/>
<ellipse cx="175.50" cy="321.27" rx="5.0" ry="3.25" transform="rotate(-24 175.50 321.27)" fill="#000"/>
<line x1="179.70" y1="320.27" x2="179.70" y2="279.00" stroke="#000" stroke-width="1.2" stroke-linecap="butt"/>
<ellipse cx="189.60" cy="321.27" rx="5.0" ry="3.25" transform="rotate(-24 189.60 321.27)" fill="#000"/>
<line x1="193.70" y1="320.27" x2="193.70" y2="279.00" stroke="#000" stroke-width="1.2" stroke-linecap="butt"/>
<path d="M124.50 326.60C136.75 332.73 161.25 332.73 173.50 326.60C161.25 334.43 136.75 334.43 124.50 326.60Z" fill="#000" stroke="#000" stroke-width="0.4"/>
<path d="M177.50 326.20C180.12 330.20 185.38 330.20 188.00 326.20C185.38 331.90 180.12 331.90 177.50 326.20Z" fill="#000" stroke="#000" stroke-width="0.4"/>
<ellipse cx="204.40" cy="457.48" rx="5.0" ry="3.25" transform="rotate(-24 204.40 457.48)" fill="#000"/>
<ellipse cx="204.40" cy="474.94" rx="5.0" ry="3.25" transform="rotate(-24 204.40 474.94)" fill="#000"/>
<ellipse cx="204.40" cy="555.27" rx="5.0" ry="3.25" transform="rotate(-24 204.40 555.27)" fill="#000"/>
<line x1="208.90" y1="554.27" x2="208.90" y2="230.47" stroke="#000" stroke-width="1.2" stroke-linecap="butt"/>
<g transform="translate(193.80 457.48)" stroke="#000" fill="none"><path d="M-1.7 -8.6V10.4M1.7 -10.4V8.6" stroke-width="1.1"/><path d="M-3.9 -2.3L3.9 -4.7M-3.9 4.7L3.9 2.3" stroke-width="2.6"/></g>
<g transform="translate(193.90 555.27)" stroke="#000" fill="none"><path d="M-1.7 -8.6V10.4M1.7 -10.4V8.6" stroke-width="1.1"/><path d="M-3.9 -2.3L3.9 -4.7M-3.9 4.7L3.9 2.3" stroke-width="2.6"/></g>
<path transform="translate(199.60 565.20)" fill="#000" d="M-2.3 0.1L3.9 5.7L0.6 9.5L3 13.9C0.4 12.5 -1.9 13.7 -1.4 19.8L-2.2 19.8C-5 16.4 -4.5 12 -0.7 11.9L-3.6 8.3L-0.4 4.6L-3 0.7Z"/>
<ellipse cx="244.90" cy="310.80" rx="5.0" ry="3.25" transform="rotate(-24 244.90 310.80)" fill="#000"/>
<line x1="249.10" y1="309.80" x2="249.10" y2="230.47" stroke="#000" stroke-width="1.2" stroke-linecap="butt"/>
<ellipse cx="249.00" cy="352.71" rx="5.0" ry="3.25" transform="rotate(-24 249.00 352.71)" fill="#000"/>
<line x1="253.30" y1="351.71" x2="253.30" y2="230.47" stroke="#000" stroke-width="1.2" stroke-linecap="butt"/>
<ellipse cx="262.80" cy="555.27" rx="5.0" ry="3.25" transform="rotate(-24 262.80 555.27)" fill="#000"/>
<line x1="267.40" y1="554.27" x2="267.40" y2="230.47" stroke="#000" stroke-width="1.2" stroke-linecap="butt"/>
<g transform="translate(253.40 555.27)" stroke="#000" fill="none"><path d="M-2.2 -10.6V5.6M2.2 -5.6V10.6" stroke-width="1.15"/><path d="M-2.2 4.9L2.2 3.7M-2.2 -3.7L2.2 -4.9" stroke-width="2.6"/></g>
<path transform="translate(261.20 565.20)" fill="#000" d="M-2.3 0.1L3.9 5.7L0.6 9.5L3 13.9C0.4 12.5 -1.9 13.7 -1.4 19.8L-2.2 19.8C-5 16.4 -4.5 12 -0.7 11.9L-3.6 8.3L-0.4 4.6L-3 0.7Z"/>
<ellipse cx="271.30" cy="272.38" rx="5.0" ry="3.25" transform="rotate(-24 271.30 272.38)" fill="#000"/>
<line x1="275.60" y1="271.38" x2="275.60" y2="236.00" stroke="#000" stroke-width="1.2" stroke-linecap="butt"/>
<ellipse cx="280.10" cy="268.89" rx="5.0" ry="3.25" transform="rotate(-24 280.10 268.89)" fill="#000"/>
<ellipse cx="297.80" cy="272.38" rx="5.0" ry="3.25" transform="rotate(-24 297.80 272.38)" fill="#000"/>
<line x1="302.40" y1="271.38" x2="302.40" y2="236.00" stroke="#000" stroke-width="1.2" stroke-linecap="butt"/>
<ellipse cx="306.60" cy="268.89" rx="5.0" ry="3.25" transform="rotate(-24 306.60 268.89)" fill="#000"/>
<circle cx="289.70" cy="268.60" r="1.45" fill="#000"/>
<circle cx="289.70" cy="275.60" r="1.45" fill="#000"/>
<path d="M281.60 262.60C286.25 258.07 295.55 258.07 300.20 262.60C295.55 256.37 286.25 256.37 281.60 262.60Z" fill="#000" stroke="#000" stroke-width="0.4"/>
<path d="M272.80 278.20C278.98 284.33 291.32 284.33 297.50 278.20C291.32 286.03 278.98 286.03 272.80 278.20Z" fill="#000" stroke="#000" stroke-width="0.4"/>
<ellipse cx="321.00" cy="324.77" rx="5.0" ry="3.25" transform="rotate(-24 321.00 324.77)" fill="#000"/>
<line x1="325.10" y1="323.77" x2="325.10" y2="230.47" stroke="#000" stroke-width="1.2" stroke-linecap="butt"/>
<ellipse cx="330.30" cy="314.29" rx="5.0" ry="3.25" transform="rotate(-24 330.30 314.29)" fill="#000"/>
<line x1="334.40" y1="313.29" x2="334.40" y2="230.47" stroke="#000" stroke-width="1.2" stroke-linecap="butt"/>
<g transform="translate(311.60 314.29)" stroke="#000" fill="none"><path d="M-1.7 -8.6V10.4M1.7 -10.4V8.6" stroke-width="1.1"/><path d="M-3.9 -2.3L3.9 -4.7M-3.9 4.7L3.9 2.3" stroke-width="2.6"/></g>
<ellipse cx="344.10" cy="412.08" rx="5.0" ry="3.25" transform="rotate(-24 344.10 412.08)" fill="#000"/>
<line x1="348.55" y1="411.08" x2="348.55" y2="230.47" stroke="#000" stroke-width="1.2" stroke-linecap="butt"/>
<g transform="translate(331.00 412.08)" stroke="#000" fill="none"><path d="M-1.7 -8.6V10.4M1.7 -10.4V8.6" stroke-width="1.1"/><path d="M-3.9 -2.3L3.9 -4.7M-3.9 4.7L3.9 2.3" stroke-width="2.6"/></g>
<path transform="translate(353.60 421.80)" fill="#000" d="M-2.3 0.1L3.9 5.7L0.6 9.5L3 13.9C0.4 12.5 -1.9 13.7 -1.4 19.8L-2.2 19.8C-5 16.4 -4.5 12 -0.7 11.9L-3.6 8.3L-0.4 4.6L-3 0.7Z"/>
<ellipse cx="386.20" cy="544.80" rx="5.0" ry="3.25" transform="rotate(-24 386.20 544.80)" fill="#000"/>
<line x1="390.65" y1="543.80" x2="390.65" y2="230.47" stroke="#000" stroke-width="1.2" stroke-linecap="butt"/>
<g transform="translate(374.80 544.80)" stroke="#000" fill="none"><path d="M-1.7 -8.6V10.4M1.7 -10.4V8.6" stroke-width="1.1"/><path d="M-3.9 -2.3L3.9 -4.7M-3.9 4.7L3.9 2.3" stroke-width="2.6"/></g>
<path transform="translate(368.40 555.40)" fill="#000" d="M-2.3 0.1L3.9 5.7L0.6 9.5L3 13.9C0.4 12.5 -1.9 13.7 -1.4 19.8L-2.2 19.8C-5 16.4 -4.5 12 -0.7 11.9L-3.6 8.3L-0.4 4.6L-3 0.7Z"/>
<ellipse cx="415.50" cy="544.80" rx="5.0" ry="3.25" transform="rotate(-24 415.50 544.80)" fill="#000"/>
<line x1="419.95" y1="543.80" x2="419.95" y2="230.47" stroke="#000" stroke-width="1.2" stroke-linecap="butt"/>
<g transform="translate(406.50 544.80)" stroke="#000" fill="none"><path d="M-2.2 -10.6V5.6M2.2 -5.6V10.6" stroke-width="1.15"/><path d="M-2.2 4.9L2.2 3.7M-2.2 -3.7L2.2 -4.9" stroke-width="2.6"/></g>
<path transform="translate(414.00 555.40)" fill="#000" d="M-2.3 0.1L3.9 5.7L0.6 9.5L3 13.9C0.4 12.5 -1.9 13.7 -1.4 19.8L-2.2 19.8C-5 16.4 -4.5 12 -0.7 11.9L-3.6 8.3L-0.4 4.6L-3 0.7Z"/>
<ellipse cx="477.20" cy="551.78" rx="5.0" ry="3.25" transform="rotate(-24 477.20 551.78)" fill="#000"/>
<line x1="481.65" y1="550.78" x2="481.65" y2="230.47" stroke="#000" stroke-width="1.2" stroke-linecap="butt"/>
<g transform="translate(466.20 551.78)" stroke="#000" fill="none"><path d="M-1.7 -8.6V10.4M1.7 -10.4V8.6" stroke-width="1.1"/><path d="M-3.9 -2.3L3.9 -4.7M-3.9 4.7L3.9 2.3" stroke-width="2.6"/></g>
<ellipse cx="486.20" cy="352.71" rx="5.0" ry="3.25" transform="rotate(-24 486.20 352.71)" fill="#000"/>
<line x1="490.65" y1="351.71" x2="490.65" y2="230.47" stroke="#000" stroke-width="1.2" stroke-linecap="butt"/>
<ellipse cx="500.50" cy="471.45" rx="5.0" ry="3.25" transform="rotate(-24 500.50 471.45)" fill="#000"/>
<ellipse cx="500.50" cy="551.78" rx="5.0" ry="3.25" transform="rotate(-24 500.50 551.78)" fill="#000"/>
<line x1="504.95" y1="550.78" x2="504.95" y2="230.47" stroke="#000" stroke-width="1.2" stroke-linecap="butt"/>
<g transform="translate(490.30 551.78)" stroke="#000" fill="none"><path d="M-2.2 -10.6V5.6M2.2 -5.6V10.6" stroke-width="1.15"/><path d="M-2.2 4.9L2.2 3.7M-2.2 -3.7L2.2 -4.9" stroke-width="2.6"/></g>
<path transform="translate(498.60 562.40)" fill="#000" d="M-2.3 0.1L3.9 5.7L0.6 9.5L3 13.9C0.4 12.5 -1.9 13.7 -1.4 19.8L-2.2 19.8C-5 16.4 -4.5 12 -0.7 11.9L-3.6 8.3L-0.4 4.6L-3 0.7Z"/>
<path transform="translate(510.60 562.40)" fill="#000" d="M-2.3 0.1L3.9 5.7L0.6 9.5L3 13.9C0.4 12.5 -1.9 13.7 -1.4 19.8L-2.2 19.8C-5 16.4 -4.5 12 -0.7 11.9L-3.6 8.3L-0.4 4.6L-3 0.7Z"/>
<ellipse cx="532.10" cy="443.51" rx="5.0" ry="3.25" transform="rotate(-24 532.10 443.51)" fill="#000"/>
<line x1="536.55" y1="442.51" x2="536.55" y2="230.47" stroke="#000" stroke-width="1.2" stroke-linecap="butt"/>
<g transform="translate(520.30 443.51)" stroke="#000" fill="none"><path d="M-1.7 -8.6V10.4M1.7 -10.4V8.6" stroke-width="1.1"/><path d="M-3.9 -2.3L3.9 -4.7M-3.9 4.7L3.9 2.3" stroke-width="2.6"/></g>
<path transform="translate(529.70 453.80)" fill="#000" d="M-2.3 0.1L3.9 5.7L0.6 9.5L3 13.9C0.4 12.5 -1.9 13.7 -1.4 19.8L-2.2 19.8C-5 16.4 -4.5 12 -0.7 11.9L-3.6 8.3L-0.4 4.6L-3 0.7Z"/>
<ellipse cx="582.30" cy="331.75" rx="5.0" ry="3.25" transform="rotate(-24 582.30 331.75)" fill="#000"/>
<line x1="586.75" y1="330.75" x2="586.75" y2="230.47" stroke="#000" stroke-width="1.2" stroke-linecap="butt"/>
<g transform="translate(571.90 331.75)" stroke="#000" fill="none"><path d="M-1.7 -8.6V10.4M1.7 -10.4V8.6" stroke-width="1.1"/><path d="M-3.9 -2.3L3.9 -4.7M-3.9 4.7L3.9 2.3" stroke-width="2.6"/></g>
<ellipse cx="610.90" cy="310.80" rx="5.0" ry="3.25" transform="rotate(-24 610.90 310.80)" fill="#000"/>
<line x1="615.35" y1="309.80" x2="615.35" y2="230.47" stroke="#000" stroke-width="1.2" stroke-linecap="butt"/>
<g transform="translate(602.10 310.80)" stroke="#000" fill="none"><path d="M-2.2 -10.6V5.6M2.2 -5.6V10.6" stroke-width="1.15"/><path d="M-2.2 4.9L2.2 3.7M-2.2 -3.7L2.2 -4.9" stroke-width="2.6"/></g>
<ellipse cx="614.60" cy="384.14" rx="5.0" ry="3.25" transform="rotate(-24 614.60 384.14)" fill="#000"/>
<line x1="619.05" y1="383.14" x2="619.05" y2="230.47" stroke="#000" stroke-width="1.2" stroke-linecap="butt"/>
<ellipse cx="628.60" cy="495.90" rx="5.0" ry="3.25" transform="rotate(-24 628.60 495.90)" fill="#000"/>
<line x1="633.05" y1="494.90" x2="633.05" y2="230.47" stroke="#000" stroke-width="1.2" stroke-linecap="butt"/>
<path transform="translate(626.90 506.40)" fill="#000" d="M-2.3 0.1L3.9 5.7L0.6 9.5L3 13.9C0.4 12.5 -1.9 13.7 -1.4 19.8L-2.2 19.8C-5 16.4 -4.5 12 -0.7 11.9L-3.6 8.3L-0.4 4.6L-3 0.7Z"/>
<ellipse cx="665.20" cy="506.38" rx="5.0" ry="3.25" transform="rotate(-24 665.20 506.38)" fill="#000"/>
<line x1="669.65" y1="505.38" x2="669.65" y2="230.47" stroke="#000" stroke-width="1.2" stroke-linecap="butt"/>
<g transform="translate(653.40 506.38)" stroke="#000" fill="none"><path d="M-1.7 -8.6V10.4M1.7 -10.4V8.6" stroke-width="1.1"/><path d="M-3.9 -2.3L3.9 -4.7M-3.9 4.7L3.9 2.3" stroke-width="2.6"/></g>
<path transform="translate(663.30 516.40)" fill="#000" d="M-2.3 0.1L3.9 5.7L0.6 9.5L3 13.9C0.4 12.5 -1.9 13.7 -1.4 19.8L-2.2 19.8C-5 16.4 -4.5 12 -0.7 11.9L-3.6 8.3L-0.4 4.6L-3 0.7Z"/>
<path transform="translate(677.60 516.40)" fill="#000" d="M-2.3 0.1L3.9 5.7L0.6 9.5L3 13.9C0.4 12.5 -1.9 13.7 -1.4 19.8L-2.2 19.8C-5 16.4 -4.5 12 -0.7 11.9L-3.6 8.3L-0.4 4.6L-3 0.7Z"/>
<path transform="translate(704.80 516.40)" fill="#000" d="M-2.3 0.1L3.9 5.7L0.6 9.5L3 13.9C0.4 12.5 -1.9 13.7 -1.4 19.8L-2.2 19.8C-5 16.4 -4.5 12 -0.7 11.9L-3.6 8.3L-0.4 4.6L-3 0.7Z"/>
<path transform="translate(746.60 516.40)" fill="#000" d="M-2.3 0.1L3.9 5.7L0.6 9.5L3 13.9C0.4 12.5 -1.9 13.7 -1.4 19.8L-2.2 19.8C-5 16.4 -4.5 12 -0.7 11.9L-3.6 8.3L-0.4 4.6L-3 0.7Z"/>
<path transform="translate(757.80 516.40)" fill="#000" d="M-2.3 0.1L3.9 5.7L0.6 9.5L3 13.9C0.4 12.5 -1.9 13.7 -1.4 19.8L-2.2 19.8C-5 16.4 -4.5 12 -0.7 11.9L-3.6 8.3L-0.4 4.6L-3 0.7Z"/>
<ellipse cx="706.20" cy="310.80" rx="5.0" ry="3.25" transform="rotate(-24 706.20 310.80)" fill="#000"/>
<line x1="710.65" y1="309.80" x2="710.65" y2="230.47" stroke="#000" stroke-width="1.2" stroke-linecap="butt"/>
<g transform="translate(696.20 310.80)" stroke="#000" fill="none"><path d="M-1.7 -8.6V10.4M1.7 -10.4V8.6" stroke-width="1.1"/><path d="M-3.9 -2.3L3.9 -4.7M-3.9 4.7L3.9 2.3" stroke-width="2.6"/></g>
<ellipse cx="725.80" cy="310.80" rx="5.0" ry="3.25" transform="rotate(-24 725.80 310.80)" fill="#000"/>
<line x1="730.25" y1="309.80" x2="730.25" y2="230.47" stroke="#000" stroke-width="1.2" stroke-linecap="butt"/>
<g transform="translate(717.30 310.80)" stroke="#000" fill="none"><path d="M-2.2 -10.6V5.6M2.2 -5.6V10.6" stroke-width="1.15"/><path d="M-2.2 4.9L2.2 3.7M-2.2 -3.7L2.2 -4.9" stroke-width="2.6"/></g>
<ellipse cx="748.20" cy="310.80" rx="5.0" ry="3.25" transform="rotate(-24 748.20 310.80)" fill="#000"/>
<line x1="752.65" y1="309.80" x2="752.65" y2="230.47" stroke="#000" stroke-width="1.2" stroke-linecap="butt"/>
<g transform="translate(738.20 310.80)" stroke="#000" fill="none"><path d="M-1.7 -8.6V10.4M1.7 -10.4V8.6" stroke-width="1.1"/><path d="M-3.9 -2.3L3.9 -4.7M-3.9 4.7L3.9 2.3" stroke-width="2.6"/></g>
<ellipse cx="776.20" cy="555.27" rx="5.0" ry="3.25" transform="rotate(-24 776.20 555.27)" fill="#000"/>
<line x1="780.65" y1="554.27" x2="780.65" y2="230.47" stroke="#000" stroke-width="1.2" stroke-linecap="butt"/>
<ellipse cx="799.40" cy="349.22" rx="5.0" ry="3.25" transform="rotate(-24 799.40 349.22)" fill="#000"/>
<line x1="803.85" y1="348.22" x2="803.85" y2="230.47" stroke="#000" stroke-width="1.2" stroke-linecap="butt"/>
<ellipse cx="813.50" cy="555.27" rx="5.0" ry="3.25" transform="rotate(-24 813.50 555.27)" fill="#000"/>
<line x1="817.95" y1="554.27" x2="817.95" y2="230.47" stroke="#000" stroke-width="1.2" stroke-linecap="butt"/>
<g transform="translate(802.60 555.27)" stroke="#000" fill="none"><path d="M-1.7 -8.6V10.4M1.7 -10.4V8.6" stroke-width="1.1"/><path d="M-3.9 -2.3L3.9 -4.7M-3.9 4.7L3.9 2.3" stroke-width="2.6"/></g>
<ellipse cx="836.20" cy="296.83" rx="5.0" ry="3.25" transform="rotate(-24 836.20 296.83)" fill="#000"/>
<g transform="translate(824.50 296.83)" stroke="#000" fill="none"><path d="M-1.7 -8.6V10.4M1.7 -10.4V8.6" stroke-width="1.1"/><path d="M-3.9 -2.3L3.9 -4.7M-3.9 4.7L3.9 2.3" stroke-width="2.6"/></g>
<g transform="translate(830.80 411.80)" stroke="#000" fill="none"><path d="M-2.2 -10.6V5.6M2.2 -5.6V10.6" stroke-width="1.15"/><path d="M-2.2 4.9L2.2 3.7M-2.2 -3.7L2.2 -4.9" stroke-width="2.6"/></g>
<path d="M64.40 262.20C77.74 253.76 125.16 253.64 138.50 262.00C125.16 251.94 77.74 252.06 64.40 262.20Z" fill="#000" stroke="#000" stroke-width="0.4"/>
<path d="M147.70 260.60C169.89 255.43 248.81 256.00 271.00 261.50C248.81 254.30 169.89 253.73 147.70 260.60Z" fill="#000" stroke="#000" stroke-width="0.4"/>
<path d="M139.00 277.80C162.67 287.13 246.83 287.13 270.50 277.80C246.83 288.83 162.67 288.83 139.00 277.80Z" fill="#000" stroke="#000" stroke-width="0.4"/>
<path d="M63.80 280.60C79.85 286.73 111.95 286.73 128.00 280.60C111.95 288.43 79.85 288.43 63.80 280.60Z" fill="#000" stroke="#000" stroke-width="0.4"/>
<path d="M63.80 336.00C78.33 341.93 107.38 341.53 121.90 335.20C107.38 343.23 78.33 343.63 63.80 336.00Z" fill="#000" stroke="#000" stroke-width="0.4"/>
<line x1="75.50" y1="527.00" x2="94.80" y2="527.00" stroke="#000" stroke-width="1.4" stroke-linecap="butt"/>
<rect x="80.10" y="527.00" width="10.50" height="4.40" fill="#000"/>
<line x1="87.80" y1="531.00" x2="82.20" y2="548.30" stroke="#000" stroke-width="1.3" stroke-linecap="butt"/>
<circle cx="83.60" cy="533.00" r="1.8" fill="#000"/>
<circle cx="81.60" cy="536.80" r="2.0" fill="#000"/>
<path d="M81.1 538.0 Q84.1 538.3 85.8 534.2" stroke="#000" stroke-width="1" fill="none"/>
<circle cx="80.80" cy="542.00" r="1.8" fill="#000"/>
<path d="M80.3 543.2 Q83.3 543.5 85.0 539.4" stroke="#000" stroke-width="1" fill="none"/>
<line x1="75.80" y1="621.00" x2="94.90" y2="621.00" stroke="#000" stroke-width="1.2" stroke-linecap="butt"/>
<line x1="75.80" y1="624.70" x2="94.90" y2="624.70" stroke="#000" stroke-width="1.2" stroke-linecap="butt"/>
<rect x="80.00" y="621.00" width="11.00" height="3.70" fill="#000"/>
<ellipse cx="84.30" cy="634.54" rx="5.0" ry="3.25" transform="rotate(-24 84.30 634.54)" fill="#000"/>
<line x1="80.50" y1="635.54" x2="80.50" y2="784.72" stroke="#000" stroke-width="1.2" stroke-linecap="butt"/>
<g transform="translate(74.30 634.54)" stroke="#000" fill="none"><path d="M-1.7 -8.6V10.4M1.7 -10.4V8.6" stroke-width="1.1"/><path d="M-3.9 -2.3L3.9 -4.7M-3.9 4.7L3.9 2.3" stroke-width="2.6"/></g>
<ellipse cx="94.00" cy="634.54" rx="5.0" ry="3.25" transform="rotate(-24 94.00 634.54)" fill="#000"/>
<line x1="90.20" y1="635.54" x2="90.20" y2="709.00" stroke="#000" stroke-width="1.2" stroke-linecap="butt"/>
<ellipse cx="98.90" cy="679.94" rx="5.0" ry="3.25" transform="rotate(-24 98.90 679.94)" fill="#000"/>
<line x1="94.40" y1="680.94" x2="94.40" y2="743.00" stroke="#000" stroke-width="1.2" stroke-linecap="butt"/>
<g transform="translate(74.30 679.94)" stroke="#000" fill="none"><path d="M-1.7 -8.6V10.4M1.7 -10.4V8.6" stroke-width="1.1"/><path d="M-3.9 -2.3L3.9 -4.7M-3.9 4.7L3.9 2.3" stroke-width="2.6"/></g>
<ellipse cx="152.70" cy="679.94" rx="5.0" ry="3.25" transform="rotate(-24 152.70 679.94)" fill="#000"/>
<line x1="148.40" y1="680.94" x2="148.40" y2="743.00" stroke="#000" stroke-width="1.2" stroke-linecap="butt"/>
<ellipse cx="167.00" cy="679.94" rx="5.0" ry="3.25" transform="rotate(-24 167.00 679.94)" fill="#000"/>
<line x1="162.30" y1="680.94" x2="162.30" y2="743.00" stroke="#000" stroke-width="1.2" stroke-linecap="butt"/>
<ellipse cx="103.50" cy="749.79" rx="5.0" ry="3.25" transform="rotate(-24 103.50 749.79)" fill="#000"/>
<line x1="98.90" y1="750.79" x2="98.90" y2="819.00" stroke="#000" stroke-width="1.2" stroke-linecap="butt"/>
<ellipse cx="113.60" cy="791.71" rx="5.0" ry="3.25" transform="rotate(-24 113.60 791.71)" fill="#000"/>
<line x1="118.00" y1="790.71" x2="118.00" y2="767.20" stroke="#000" stroke-width="1.2" stroke-linecap="butt"/>
<path fill="#000" d="M117.50 767.20c0.3 3.5 2.5 6.5 4.6 10c2 3.5 2.1 7 0.7 10.4l-0.7 -0.2c1 -3.2 0.6 -6.2 -1.2 -8.8c-1.2 -2 -2.6 -3.2 -3.4 -3.8z"/>
<ellipse cx="142.80" cy="812.66" rx="5.0" ry="3.25" transform="rotate(-24 142.80 812.66)" fill="#000"/>
<line x1="146.00" y1="811.66" x2="146.00" y2="784.72" stroke="#000" stroke-width="1.2" stroke-linecap="butt"/>
<g transform="translate(93.90 812.66)" stroke="#000" fill="none"><path d="M-1.7 -8.6V10.4M1.7 -10.4V8.6" stroke-width="1.1"/><path d="M-3.9 -2.3L3.9 -4.7M-3.9 4.7L3.9 2.3" stroke-width="2.6"/></g>
<ellipse cx="179.60" cy="753.29" rx="5.0" ry="3.25" transform="rotate(-24 179.60 753.29)" fill="#000"/>
<line x1="175.15" y1="754.29" x2="175.15" y2="784.72" stroke="#000" stroke-width="1.2" stroke-linecap="butt"/>
<ellipse cx="189.00" cy="721.86" rx="5.0" ry="3.25" transform="rotate(-24 189.00 721.86)" fill="#000"/>
<line x1="184.55" y1="722.86" x2="184.55" y2="784.72" stroke="#000" stroke-width="1.2" stroke-linecap="butt"/>
<ellipse cx="227.00" cy="662.48" rx="5.0" ry="3.25" transform="rotate(-24 227.00 662.48)" fill="#000"/>
<line x1="222.55" y1="663.48" x2="222.55" y2="784.72" stroke="#000" stroke-width="1.2" stroke-linecap="butt"/>
<ellipse cx="252.60" cy="728.84" rx="5.0" ry="3.25" transform="rotate(-24 252.60 728.84)" fill="#000"/>
<line x1="248.15" y1="729.84" x2="248.15" y2="784.72" stroke="#000" stroke-width="1.2" stroke-linecap="butt"/>
<ellipse cx="256.80" cy="746.30" rx="5.0" ry="3.25" transform="rotate(-24 256.80 746.30)" fill="#000"/>
<ellipse cx="256.80" cy="777.74" rx="5.0" ry="3.25" transform="rotate(-24 256.80 777.74)" fill="#000"/>
<line x1="252.35" y1="747.30" x2="252.35" y2="802.60" stroke="#000" stroke-width="1.2" stroke-linecap="butt"/>
<g transform="translate(240.30 777.74)" stroke="#000" fill="none"><path d="M-1.7 -8.6V10.4M1.7 -10.4V8.6" stroke-width="1.1"/><path d="M-3.9 -2.3L3.9 -4.7M-3.9 4.7L3.9 2.3" stroke-width="2.6"/></g>
<ellipse cx="312.00" cy="634.54" rx="5.0" ry="3.25" transform="rotate(-24 312.00 634.54)" fill="#000"/>
<line x1="307.70" y1="635.54" x2="307.70" y2="709.00" stroke="#000" stroke-width="1.2" stroke-linecap="butt"/>
<ellipse cx="325.90" cy="634.54" rx="5.0" ry="3.25" transform="rotate(-24 325.90 634.54)" fill="#000"/>
<line x1="322.00" y1="635.54" x2="322.00" y2="709.00" stroke="#000" stroke-width="1.2" stroke-linecap="butt"/>
<ellipse cx="340.30" cy="693.91" rx="5.0" ry="3.25" transform="rotate(-24 340.30 693.91)" fill="#000"/>
<line x1="335.85" y1="694.91" x2="335.85" y2="784.72" stroke="#000" stroke-width="1.2" stroke-linecap="butt"/>
<ellipse cx="398.40" cy="749.79" rx="5.0" ry="3.25" transform="rotate(-24 398.40 749.79)" fill="#000"/>
<line x1="394.10" y1="750.79" x2="394.10" y2="819.00" stroke="#000" stroke-width="1.2" stroke-linecap="butt"/>
<ellipse cx="411.90" cy="672.96" rx="5.0" ry="3.25" transform="rotate(-24 411.90 672.96)" fill="#000"/>
<line x1="407.45" y1="673.96" x2="407.45" y2="784.72" stroke="#000" stroke-width="1.2" stroke-linecap="butt"/>
<ellipse cx="446.60" cy="704.39" rx="5.0" ry="3.25" transform="rotate(-24 446.60 704.39)" fill="#000"/>
<line x1="442.15" y1="705.39" x2="442.15" y2="784.72" stroke="#000" stroke-width="1.2" stroke-linecap="butt"/>
<g transform="translate(436.00 704.39)" stroke="#000" fill="none"><path d="M-1.7 -8.6V10.4M1.7 -10.4V8.6" stroke-width="1.1"/><path d="M-3.9 -2.3L3.9 -4.7M-3.9 4.7L3.9 2.3" stroke-width="2.6"/></g>
<ellipse cx="461.00" cy="732.33" rx="5.0" ry="3.25" transform="rotate(-24 461.00 732.33)" fill="#000"/>
<line x1="456.55" y1="733.33" x2="456.55" y2="784.72" stroke="#000" stroke-width="1.2" stroke-linecap="butt"/>
<ellipse cx="528.70" cy="665.98" rx="5.0" ry="3.25" transform="rotate(-24 528.70 665.98)" fill="#000"/>
<line x1="524.25" y1="666.98" x2="524.25" y2="784.72" stroke="#000" stroke-width="1.2" stroke-linecap="butt"/>
<g transform="translate(517.80 665.98)" stroke="#000" fill="none"><path d="M-1.7 -8.6V10.4M1.7 -10.4V8.6" stroke-width="1.1"/><path d="M-3.9 -2.3L3.9 -4.7M-3.9 4.7L3.9 2.3" stroke-width="2.6"/></g>
<ellipse cx="537.60" cy="645.02" rx="5.0" ry="3.25" transform="rotate(-24 537.60 645.02)" fill="#000"/>
<ellipse cx="537.60" cy="704.39" rx="5.0" ry="3.25" transform="rotate(-24 537.60 704.39)" fill="#000"/>
<line x1="533.15" y1="646.02" x2="533.15" y2="784.72" stroke="#000" stroke-width="1.2" stroke-linecap="butt"/>
<ellipse cx="556.90" cy="753.29" rx="5.0" ry="3.25" transform="rotate(-24 556.90 753.29)" fill="#000"/>
<line x1="552.45" y1="754.29" x2="552.45" y2="784.72" stroke="#000" stroke-width="1.2" stroke-linecap="butt"/>
<ellipse cx="576.50" cy="697.41" rx="5.0" ry="3.25" transform="rotate(-24 576.50 697.41)" fill="#000"/>
<line x1="572.05" y1="698.41" x2="572.05" y2="784.72" stroke="#000" stroke-width="1.2" stroke-linecap="butt"/>
<ellipse cx="604.00" cy="655.50" rx="5.0" ry="3.25" transform="rotate(-24 604.00 655.50)" fill="#000"/>
<line x1="599.55" y1="656.50" x2="599.55" y2="784.72" stroke="#000" stroke-width="1.2" stroke-linecap="butt"/>
<g transform="translate(592.70 655.50)" stroke="#000" fill="none"><path d="M-1.7 -8.6V10.4M1.7 -10.4V8.6" stroke-width="1.1"/><path d="M-3.9 -2.3L3.9 -4.7M-3.9 4.7L3.9 2.3" stroke-width="2.6"/></g>
<ellipse cx="626.00" cy="648.51" rx="5.0" ry="3.25" transform="rotate(-24 626.00 648.51)" fill="#000"/>
<ellipse cx="626.00" cy="672.96" rx="5.0" ry="3.25" transform="rotate(-24 626.00 672.96)" fill="#000"/>
<line x1="621.55" y1="649.51" x2="621.55" y2="784.72" stroke="#000" stroke-width="1.2" stroke-linecap="butt"/>
<g transform="translate(614.90 648.51)" stroke="#000" fill="none"><path d="M-1.7 -8.6V10.4M1.7 -10.4V8.6" stroke-width="1.1"/><path d="M-3.9 -2.3L3.9 -4.7M-3.9 4.7L3.9 2.3" stroke-width="2.6"/></g>
<ellipse cx="691.00" cy="645.02" rx="5.0" ry="3.25" transform="rotate(-24 691.00 645.02)" fill="#000"/>
<line x1="686.55" y1="646.02" x2="686.55" y2="784.72" stroke="#000" stroke-width="1.2" stroke-linecap="butt"/>
<ellipse cx="694.60" cy="774.24" rx="5.0" ry="3.25" transform="rotate(-24 694.60 774.24)" fill="#000"/>
<line x1="690.15" y1="775.24" x2="690.15" y2="798.69" stroke="#000" stroke-width="1.2" stroke-linecap="butt"/>
<ellipse cx="715.00" cy="665.98" rx="5.0" ry="3.25" transform="rotate(-24 715.00 665.98)" fill="#000"/>
<line x1="710.55" y1="666.98" x2="710.55" y2="784.72" stroke="#000" stroke-width="1.2" stroke-linecap="butt"/>
<ellipse cx="740.20" cy="770.75" rx="5.0" ry="3.25" transform="rotate(-24 740.20 770.75)" fill="#000"/>
<line x1="735.75" y1="771.75" x2="735.75" y2="795.20" stroke="#000" stroke-width="1.2" stroke-linecap="butt"/>
<ellipse cx="754.60" cy="690.42" rx="5.0" ry="3.25" transform="rotate(-24 754.60 690.42)" fill="#000"/>
<line x1="750.15" y1="691.42" x2="750.15" y2="784.72" stroke="#000" stroke-width="1.2" stroke-linecap="butt"/>
<g transform="translate(743.50 690.42)" stroke="#000" fill="none"><path d="M-1.7 -8.6V10.4M1.7 -10.4V8.6" stroke-width="1.1"/><path d="M-3.9 -2.3L3.9 -4.7M-3.9 4.7L3.9 2.3" stroke-width="2.6"/></g>
<ellipse cx="777.80" cy="707.88" rx="5.0" ry="3.25" transform="rotate(-24 777.80 707.88)" fill="#000"/>
<line x1="773.35" y1="708.88" x2="773.35" y2="784.72" stroke="#000" stroke-width="1.2" stroke-linecap="butt"/>
<path transform="translate(821.00 774.40)" fill="#000" d="M-2.3 0.1L3.9 5.7L0.6 9.5L3 13.9C0.4 12.5 -1.9 13.7 -1.4 19.8L-2.2 19.8C-5 16.4 -4.5 12 -0.7 11.9L-3.6 8.3L-0.4 4.6L-3 0.7Z"/>
<rect x="834.00" y="714.30" width="2.00" height="2.60" fill="#000"/>
<rect x="834.00" y="720.80" width="2.00" height="2.60" fill="#000"/>
<polygon points="89.80,705.90 322.00,705.90 322.00,709.70 89.80,709.70" fill="#000"/>
<polygon points="307.70,687.20 322.00,687.20 322.00,690.60 307.70,690.60" fill="#000"/>
<polygon points="307.70,693.40 322.00,693.40 322.00,696.80 307.70,696.80" fill="#000"/>
<polygon points="307.70,699.60 322.00,699.60 322.00,703.00 307.70,703.00" fill="#000"/>
<polygon points="94.40,733.90 162.30,733.90 162.30,737.30 94.40,737.30" fill="#000"/>
<polygon points="94.40,739.60 162.30,739.30 162.30,743.10 94.40,743.40" fill="#000"/>
<polygon points="148.40,721.20 162.30,721.20 162.30,724.60 148.40,724.60" fill="#000"/>
<polygon points="148.40,727.50 162.30,727.50 162.30,730.90 148.40,730.90" fill="#000"/>
<path d="M99.40 631.00C120.18 623.12 286.42 624.08 307.20 632.20C286.42 622.38 120.18 621.42 99.40 631.00Z" fill="#000" stroke="#000" stroke-width="0.4"/>
<path d="M312.50 627.00C315.62 623.53 321.88 623.53 325.00 627.00C321.88 621.83 315.62 621.83 312.50 627.00Z" fill="#000" stroke="#000" stroke-width="0.4"/>
<path d="M100.20 673.80C113.00 668.07 138.60 668.07 151.40 673.80C138.60 666.37 113.00 666.37 100.20 673.80Z" fill="#000" stroke="#000" stroke-width="0.4"/>
<path d="M154.00 674.60C156.90 670.73 162.70 670.73 165.60 674.60C162.70 669.03 156.90 669.03 154.00 674.60Z" fill="#000" stroke="#000" stroke-width="0.4"/>
<circle cx="141.70" cy="620.90" r="1.45" fill="#000"/>
<circle cx="141.70" cy="746.20" r="1.45" fill="#000"/>
<path d="M64.20 631.00C70.08 624.57 81.83 623.97 87.70 629.80C81.83 622.27 70.08 622.87 64.20 631.00Z" fill="#000" stroke="#000" stroke-width="0.4"/>
<path d="M64.20 665.30C73.00 659.39 90.60 659.84 99.40 666.20C90.60 658.14 73.00 657.69 64.20 665.30Z" fill="#000" stroke="#000" stroke-width="0.4"/>
<path d="M64.20 746.20C72.58 740.73 89.33 740.98 97.70 746.70C89.33 739.27 72.58 739.02 64.20 746.20Z" fill="#000" stroke="#000" stroke-width="0.4"/>
<path d="M64.40 793.80C75.30 799.73 97.10 799.33 108.00 793.00C97.10 801.03 75.30 801.43 64.40 793.80Z" fill="#000" stroke="#000" stroke-width="0.4"/>
<path d="M162.30 740.40C185.72 735.94 373.08 738.66 396.50 743.80C373.08 736.96 185.72 734.24 162.30 740.40Z" fill="#000" stroke="#000" stroke-width="0.4"/>
<polygon points="98.20,818.10 394.60,818.10 394.60,823.00 98.20,823.00" fill="#000"/>
<polygon points="394.00,818.80 440.10,818.80 440.10,822.80 394.00,822.80" fill="#000"/>
<polygon points="126.00,825.60 221.00,825.60 221.00,829.40 126.00,829.40" fill="#000"/>
<polygon points="197.00,831.60 221.00,831.60 221.00,834.70 197.00,834.70" fill="#000"/>
<polygon points="197.00,837.30 221.00,837.30 221.00,840.40 197.00,840.40" fill="#000"/>
<polygon points="212.20,844.10 221.00,844.10 221.00,847.50 212.20,847.50" fill="#000"/>
<polygon points="386.30,799.60 394.60,799.60 394.60,802.80 386.30,802.80" fill="#000"/>
<polygon points="386.30,805.90 394.60,805.90 394.60,809.10 386.30,809.10" fill="#000"/>
<polygon points="386.30,812.40 394.60,812.40 394.60,815.60 386.30,815.60" fill="#000"/>
<polygon points="431.50,825.40 440.10,825.40 440.10,828.50 431.50,828.50" fill="#000"/>
<polygon points="431.50,831.50 440.10,831.50 440.10,834.60 431.50,834.60" fill="#000"/>
<polygon points="431.50,837.80 440.10,837.80 440.10,840.90 431.50,840.90" fill="#000"/>
<polygon points="108.30,931.10 211.30,931.10 211.30,934.70 108.30,934.70" fill="#000"/>
<polygon points="108.30,937.20 211.30,937.20 211.30,940.80 108.30,940.80" fill="#000"/>
<polygon points="187.60,943.40 211.30,943.40 211.30,946.90 187.60,946.90" fill="#000"/>
<polygon points="187.60,949.50 211.30,949.50 211.30,952.80 187.60,952.80" fill="#000"/>
<ellipse cx="104.70" cy="1008.24" rx="5.0" ry="3.25" transform="rotate(-24 104.70 1008.24)" fill="#000"/>
<line x1="109.50" y1="1007.24" x2="109.50" y2="932.00" stroke="#000" stroke-width="1.2" stroke-linecap="butt"/>
<g transform="translate(94.00 1008.24)" stroke="#000" fill="none"><path d="M-1.7 -8.6V10.4M1.7 -10.4V8.6" stroke-width="1.1"/><path d="M-3.9 -2.3L3.9 -4.7M-3.9 4.7L3.9 2.3" stroke-width="2.6"/></g>
<ellipse cx="118.50" cy="879.02" rx="5.0" ry="3.25" transform="rotate(-24 118.50 879.02)" fill="#000"/>
<line x1="122.80" y1="878.02" x2="122.80" y2="785.00" stroke="#000" stroke-width="1.2" stroke-linecap="butt"/>
<path fill="#000" d="M122.30 785.00c0.3 3.5 2.5 6.5 4.6 10c2 3.5 2.1 7 0.7 10.4l-0.7 -0.2c1 -3.2 0.6 -6.2 -1.2 -8.8c-1.2 -2 -2.6 -3.2 -3.4 -3.8z"/>
<ellipse cx="122.90" cy="899.97" rx="5.0" ry="3.25" transform="rotate(-24 122.90 899.97)" fill="#000"/>
<line x1="127.10" y1="898.97" x2="127.10" y2="826.00" stroke="#000" stroke-width="1.2" stroke-linecap="butt"/>
<g transform="translate(73.80 899.97)" stroke="#000" fill="none"><path d="M-1.7 -8.6V10.4M1.7 -10.4V8.6" stroke-width="1.1"/><path d="M-3.9 -2.3L3.9 -4.7M-3.9 4.7L3.9 2.3" stroke-width="2.6"/></g>
<ellipse cx="132.30" cy="865.05" rx="5.0" ry="3.25" transform="rotate(-24 132.30 865.05)" fill="#000"/>
<line x1="136.50" y1="864.05" x2="136.50" y2="819.00" stroke="#000" stroke-width="1.2" stroke-linecap="butt"/>
<circle cx="141.00" cy="865.50" r="1.45" fill="#000"/>
<circle cx="146.80" cy="865.50" r="1.45" fill="#000"/>
<circle cx="141.00" cy="878.80" r="1.45" fill="#000"/>
<ellipse cx="192.30" cy="899.97" rx="5.0" ry="3.25" transform="rotate(-24 192.30 899.97)" fill="#000"/>
<line x1="197.10" y1="898.97" x2="197.10" y2="826.00" stroke="#000" stroke-width="1.2" stroke-linecap="butt"/>
<ellipse cx="215.60" cy="899.97" rx="5.0" ry="3.25" transform="rotate(-24 215.60 899.97)" fill="#000"/>
<line x1="220.40" y1="898.97" x2="220.40" y2="826.00" stroke="#000" stroke-width="1.2" stroke-linecap="butt"/>
<ellipse cx="183.40" cy="1008.24" rx="5.0" ry="3.25" transform="rotate(-24 183.40 1008.24)" fill="#000"/>
<line x1="187.60" y1="1007.24" x2="187.60" y2="932.00" stroke="#000" stroke-width="1.2" stroke-linecap="butt"/>
<ellipse cx="206.90" cy="1008.24" rx="5.0" ry="3.25" transform="rotate(-24 206.90 1008.24)" fill="#000"/>
<line x1="211.20" y1="1007.24" x2="211.20" y2="932.00" stroke="#000" stroke-width="1.2" stroke-linecap="butt"/>
<ellipse cx="230.00" cy="1113.02" rx="5.0" ry="3.25" transform="rotate(-24 230.00 1113.02)" fill="#000"/>
<line x1="234.45" y1="1112.02" x2="234.45" y2="784.72" stroke="#000" stroke-width="1.2" stroke-linecap="butt"/>
<g transform="translate(218.50 1113.02)" stroke="#000" fill="none"><path d="M-1.7 -8.6V10.4M1.7 -10.4V8.6" stroke-width="1.1"/><path d="M-3.9 -2.3L3.9 -4.7M-3.9 4.7L3.9 2.3" stroke-width="2.6"/></g>
<path transform="translate(225.60 1123.00)" fill="#000" d="M-2.3 0.1L3.9 5.7L0.6 9.5L3 13.9C0.4 12.5 -1.9 13.7 -1.4 19.8L-2.2 19.8C-5 16.4 -4.5 12 -0.7 11.9L-3.6 8.3L-0.4 4.6L-3 0.7Z"/>
<ellipse cx="259.80" cy="1109.52" rx="5.0" ry="3.25" transform="rotate(-24 259.80 1109.52)" fill="#000"/>
<line x1="264.25" y1="1108.52" x2="264.25" y2="784.72" stroke="#000" stroke-width="1.2" stroke-linecap="butt"/>
<ellipse cx="268.60" cy="976.81" rx="5.0" ry="3.25" transform="rotate(-24 268.60 976.81)" fill="#000"/>
<line x1="273.05" y1="975.81" x2="273.05" y2="784.72" stroke="#000" stroke-width="1.2" stroke-linecap="butt"/>
<ellipse cx="282.60" cy="1088.57" rx="5.0" ry="3.25" transform="rotate(-24 282.60 1088.57)" fill="#000"/>
<line x1="287.05" y1="1087.57" x2="287.05" y2="784.72" stroke="#000" stroke-width="1.2" stroke-linecap="butt"/>
<ellipse cx="291.60" cy="892.99" rx="5.0" ry="3.25" transform="rotate(-24 291.60 892.99)" fill="#000"/>
<line x1="296.05" y1="891.99" x2="296.05" y2="784.72" stroke="#000" stroke-width="1.2" stroke-linecap="butt"/>
<g transform="translate(280.40 892.99)" stroke="#000" fill="none"><path d="M-1.7 -8.6V10.4M1.7 -10.4V8.6" stroke-width="1.1"/><path d="M-3.9 -2.3L3.9 -4.7M-3.9 4.7L3.9 2.3" stroke-width="2.6"/></g>
<ellipse cx="314.80" cy="1088.57" rx="5.0" ry="3.25" transform="rotate(-24 314.80 1088.57)" fill="#000"/>
<ellipse cx="314.80" cy="1109.52" rx="5.0" ry="3.25" transform="rotate(-24 314.80 1109.52)" fill="#000"/>
<line x1="319.25" y1="1108.52" x2="319.25" y2="784.72" stroke="#000" stroke-width="1.2" stroke-linecap="butt"/>
<path transform="translate(310.00 1120.80)" fill="#000" d="M-2.3 0.1L3.9 5.7L0.6 9.5L3 13.9C0.4 12.5 -1.9 13.7 -1.4 19.8L-2.2 19.8C-5 16.4 -4.5 12 -0.7 11.9L-3.6 8.3L-0.4 4.6L-3 0.7Z"/>
<path transform="translate(300.80 987.40)" fill="#000" d="M-2.3 0.1L3.9 5.7L0.6 9.5L3 13.9C0.4 12.5 -1.9 13.7 -1.4 19.8L-2.2 19.8C-5 16.4 -4.5 12 -0.7 11.9L-3.6 8.3L-0.4 4.6L-3 0.7Z"/>
<ellipse cx="343.10" cy="1113.02" rx="5.0" ry="3.25" transform="rotate(-24 343.10 1113.02)" fill="#000"/>
<line x1="347.55" y1="1112.02" x2="347.55" y2="784.72" stroke="#000" stroke-width="1.2" stroke-linecap="butt"/>
<g transform="translate(333.90 1113.02)" stroke="#000" fill="none"><path d="M-2.2 -10.6V5.6M2.2 -5.6V10.6" stroke-width="1.15"/><path d="M-2.2 4.9L2.2 3.7M-2.2 -3.7L2.2 -4.9" stroke-width="2.6"/></g>
<path transform="translate(337.00 1124.40)" fill="#000" d="M-2.3 0.1L3.9 5.7L0.6 9.5L3 13.9C0.4 12.5 -1.9 13.7 -1.4 19.8L-2.2 19.8C-5 16.4 -4.5 12 -0.7 11.9L-3.6 8.3L-0.4 4.6L-3 0.7Z"/>
<ellipse cx="364.80" cy="1113.02" rx="5.0" ry="3.25" transform="rotate(-24 364.80 1113.02)" fill="#000"/>
<line x1="369.25" y1="1112.02" x2="369.25" y2="784.72" stroke="#000" stroke-width="1.2" stroke-linecap="butt"/>
<g transform="translate(353.60 1113.02)" stroke="#000" fill="none"><path d="M-1.7 -8.6V10.4M1.7 -10.4V8.6" stroke-width="1.1"/><path d="M-3.9 -2.3L3.9 -4.7M-3.9 4.7L3.9 2.3" stroke-width="2.6"/></g>
<path transform="translate(362.60 1124.40)" fill="#000" d="M-2.3 0.1L3.9 5.7L0.6 9.5L3 13.9C0.4 12.5 -1.9 13.7 -1.4 19.8L-2.2 19.8C-5 16.4 -4.5 12 -0.7 11.9L-3.6 8.3L-0.4 4.6L-3 0.7Z"/>
<ellipse cx="386.50" cy="1074.60" rx="5.0" ry="3.25" transform="rotate(-24 386.50 1074.60)" fill="#000"/>
<ellipse cx="386.50" cy="1092.06" rx="5.0" ry="3.25" transform="rotate(-24 386.50 1092.06)" fill="#000"/>
<ellipse cx="386.50" cy="1116.51" rx="5.0" ry="3.25" transform="rotate(-24 386.50 1116.51)" fill="#000"/>
<line x1="390.95" y1="1115.51" x2="390.95" y2="784.72" stroke="#000" stroke-width="1.2" stroke-linecap="butt"/>
<g transform="translate(375.80 1074.60)" stroke="#000" fill="none"><path d="M-1.7 -8.6V10.4M1.7 -10.4V8.6" stroke-width="1.1"/><path d="M-3.9 -2.3L3.9 -4.7M-3.9 4.7L3.9 2.3" stroke-width="2.6"/></g>
<path transform="translate(385.00 1128.30)" fill="#000" d="M-2.3 0.1L3.9 5.7L0.6 9.5L3 13.9C0.4 12.5 -1.9 13.7 -1.4 19.8L-2.2 19.8C-5 16.4 -4.5 12 -0.7 11.9L-3.6 8.3L-0.4 4.6L-3 0.7Z"/>
<ellipse cx="414.80" cy="1085.08" rx="5.0" ry="3.25" transform="rotate(-24 414.80 1085.08)" fill="#000"/>
<ellipse cx="414.80" cy="1120.00" rx="5.0" ry="3.25" transform="rotate(-24 414.80 1120.00)" fill="#000"/>
<line x1="419.25" y1="1119.00" x2="419.25" y2="784.72" stroke="#000" stroke-width="1.2" stroke-linecap="butt"/>
<path transform="translate(409.80 1130.80)" fill="#000" d="M-2.3 0.1L3.9 5.7L0.6 9.5L3 13.9C0.4 12.5 -1.9 13.7 -1.4 19.8L-2.2 19.8C-5 16.4 -4.5 12 -0.7 11.9L-3.6 8.3L-0.4 4.6L-3 0.7Z"/>
<ellipse cx="423.60" cy="802.18" rx="5.0" ry="3.25" transform="rotate(-24 423.60 802.18)" fill="#000"/>
<line x1="428.05" y1="801.18" x2="428.05" y2="777.74" stroke="#000" stroke-width="1.2" stroke-linecap="butt"/>
<ellipse cx="435.40" cy="865.05" rx="5.0" ry="3.25" transform="rotate(-24 435.40 865.05)" fill="#000"/>
<line x1="439.70" y1="864.05" x2="439.70" y2="819.00" stroke="#000" stroke-width="1.2" stroke-linecap="butt"/>
<ellipse cx="449.20" cy="1088.57" rx="5.0" ry="3.25" transform="rotate(-24 449.20 1088.57)" fill="#000"/>
<line x1="453.65" y1="1087.57" x2="453.65" y2="784.72" stroke="#000" stroke-width="1.2" stroke-linecap="butt"/>
<g transform="translate(438.70 1088.57)" stroke="#000" fill="none"><path d="M-1.7 -8.6V10.4M1.7 -10.4V8.6" stroke-width="1.1"/><path d="M-3.9 -2.3L3.9 -4.7M-3.9 4.7L3.9 2.3" stroke-width="2.6"/></g>
<path transform="translate(444.80 1099.80)" fill="#000" d="M-2.3 0.1L3.9 5.7L0.6 9.5L3 13.9C0.4 12.5 -1.9 13.7 -1.4 19.8L-2.2 19.8C-5 16.4 -4.5 12 -0.7 11.9L-3.6 8.3L-0.4 4.6L-3 0.7Z"/>
<ellipse cx="463.50" cy="1095.55" rx="5.0" ry="3.25" transform="rotate(-24 463.50 1095.55)" fill="#000"/>
<line x1="467.95" y1="1094.55" x2="467.95" y2="784.72" stroke="#000" stroke-width="1.2" stroke-linecap="butt"/>
<ellipse cx="485.60" cy="1032.69" rx="5.0" ry="3.25" transform="rotate(-24 485.60 1032.69)" fill="#000"/>
<ellipse cx="485.60" cy="1099.05" rx="5.0" ry="3.25" transform="rotate(-24 485.60 1099.05)" fill="#000"/>
<line x1="490.05" y1="1098.05" x2="490.05" y2="784.72" stroke="#000" stroke-width="1.2" stroke-linecap="butt"/>
<g transform="translate(474.60 1032.69)" stroke="#000" fill="none"><path d="M-1.7 -8.6V10.4M1.7 -10.4V8.6" stroke-width="1.1"/><path d="M-3.9 -2.3L3.9 -4.7M-3.9 4.7L3.9 2.3" stroke-width="2.6"/></g>
<g transform="translate(474.60 1099.05)" stroke="#000" fill="none"><path d="M-1.7 -8.6V10.4M1.7 -10.4V8.6" stroke-width="1.1"/><path d="M-3.9 -2.3L3.9 -4.7M-3.9 4.7L3.9 2.3" stroke-width="2.6"/></g>
<path transform="translate(483.80 1109.50)" fill="#000" d="M-2.3 0.1L3.9 5.7L0.6 9.5L3 13.9C0.4 12.5 -1.9 13.7 -1.4 19.8L-2.2 19.8C-5 16.4 -4.5 12 -0.7 11.9L-3.6 8.3L-0.4 4.6L-3 0.7Z"/>
<ellipse cx="508.40" cy="1106.03" rx="5.0" ry="3.25" transform="rotate(-24 508.40 1106.03)" fill="#000"/>
<line x1="512.85" y1="1105.03" x2="512.85" y2="784.72" stroke="#000" stroke-width="1.2" stroke-linecap="butt"/>
<g transform="translate(497.00 1106.03)" stroke="#000" fill="none"><path d="M-1.7 -8.6V10.4M1.7 -10.4V8.6" stroke-width="1.1"/><path d="M-3.9 -2.3L3.9 -4.7M-3.9 4.7L3.9 2.3" stroke-width="2.6"/></g>
<path transform="translate(494.90 1112.20)" fill="#000" d="M-2.3 0.1L3.9 5.7L0.6 9.5L3 13.9C0.4 12.5 -1.9 13.7 -1.4 19.8L-2.2 19.8C-5 16.4 -4.5 12 -0.7 11.9L-3.6 8.3L-0.4 4.6L-3 0.7Z"/>
<ellipse cx="517.20" cy="802.18" rx="5.0" ry="3.25" transform="rotate(-24 517.20 802.18)" fill="#000"/>
<line x1="521.65" y1="801.18" x2="521.65" y2="777.74" stroke="#000" stroke-width="1.2" stroke-linecap="butt"/>
<ellipse cx="540.40" cy="1109.52" rx="5.0" ry="3.25" transform="rotate(-24 540.40 1109.52)" fill="#000"/>
<line x1="544.85" y1="1108.52" x2="544.85" y2="784.72" stroke="#000" stroke-width="1.2" stroke-linecap="butt"/>
<g transform="translate(529.60 1109.52)" stroke="#000" fill="none"><path d="M-1.7 -8.6V10.4M1.7 -10.4V8.6" stroke-width="1.1"/><path d="M-3.9 -2.3L3.9 -4.7M-3.9 4.7L3.9 2.3" stroke-width="2.6"/></g>
<path transform="translate(527.00 1121.40)" fill="#000" d="M-2.3 0.1L3.9 5.7L0.6 9.5L3 13.9C0.4 12.5 -1.9 13.7 -1.4 19.8L-2.2 19.8C-5 16.4 -4.5 12 -0.7 11.9L-3.6 8.3L-0.4 4.6L-3 0.7Z"/>
<ellipse cx="559.90" cy="1109.52" rx="5.0" ry="3.25" transform="rotate(-24 559.90 1109.52)" fill="#000"/>
<line x1="564.35" y1="1108.52" x2="564.35" y2="784.72" stroke="#000" stroke-width="1.2" stroke-linecap="butt"/>
<g transform="translate(550.70 1109.52)" stroke="#000" fill="none"><path d="M-2.2 -10.6V5.6M2.2 -5.6V10.6" stroke-width="1.15"/><path d="M-2.2 4.9L2.2 3.7M-2.2 -3.7L2.2 -4.9" stroke-width="2.6"/></g>
<ellipse cx="578.90" cy="1106.03" rx="5.0" ry="3.25" transform="rotate(-24 578.90 1106.03)" fill="#000"/>
<line x1="583.35" y1="1105.03" x2="583.35" y2="784.72" stroke="#000" stroke-width="1.2" stroke-linecap="butt"/>
<g transform="translate(569.40 1106.03)" stroke="#000" fill="none"><path d="M-2.2 -10.6V5.6M2.2 -5.6V10.6" stroke-width="1.15"/><path d="M-2.2 4.9L2.2 3.7M-2.2 -3.7L2.2 -4.9" stroke-width="2.6"/></g>
<ellipse cx="592.70" cy="1022.21" rx="5.0" ry="3.25" transform="rotate(-24 592.70 1022.21)" fill="#000"/>
<line x1="597.15" y1="1021.21" x2="597.15" y2="784.72" stroke="#000" stroke-width="1.2" stroke-linecap="butt"/>
<ellipse cx="628.60" cy="875.52" rx="5.0" ry="3.25" transform="rotate(-24 628.60 875.52)" fill="#000"/>
<line x1="633.05" y1="874.52" x2="633.05" y2="784.72" stroke="#000" stroke-width="1.2" stroke-linecap="butt"/>
<g transform="translate(617.60 875.52)" stroke="#000" fill="none"><path d="M-1.7 -8.6V10.4M1.7 -10.4V8.6" stroke-width="1.1"/><path d="M-3.9 -2.3L3.9 -4.7M-3.9 4.7L3.9 2.3" stroke-width="2.6"/></g>
<ellipse cx="633.20" cy="927.91" rx="5.0" ry="3.25" transform="rotate(-24 633.20 927.91)" fill="#000"/>
<line x1="637.65" y1="926.91" x2="637.65" y2="784.72" stroke="#000" stroke-width="1.2" stroke-linecap="butt"/>
<ellipse cx="647.60" cy="1071.11" rx="5.0" ry="3.25" transform="rotate(-24 647.60 1071.11)" fill="#000"/>
<line x1="652.05" y1="1070.11" x2="652.05" y2="784.72" stroke="#000" stroke-width="1.2" stroke-linecap="butt"/>
<g transform="translate(636.60 1071.11)" stroke="#000" fill="none"><path d="M-1.7 -8.6V10.4M1.7 -10.4V8.6" stroke-width="1.1"/><path d="M-3.9 -2.3L3.9 -4.7M-3.9 4.7L3.9 2.3" stroke-width="2.6"/></g>
<ellipse cx="656.00" cy="886.00" rx="5.0" ry="3.25" transform="rotate(-24 656.00 886.00)" fill="#000"/>
<line x1="660.45" y1="885.00" x2="660.45" y2="784.72" stroke="#000" stroke-width="1.2" stroke-linecap="butt"/>
<g transform="translate(644.70 886.00)" stroke="#000" fill="none"><path d="M-1.7 -8.6V10.4M1.7 -10.4V8.6" stroke-width="1.1"/><path d="M-3.9 -2.3L3.9 -4.7M-3.9 4.7L3.9 2.3" stroke-width="2.6"/></g>
<ellipse cx="665.80" cy="819.64" rx="5.0" ry="3.25" transform="rotate(-24 665.80 819.64)" fill="#000"/>
<line x1="670.25" y1="818.64" x2="670.25" y2="784.72" stroke="#000" stroke-width="1.2" stroke-linecap="butt"/>
<ellipse cx="679.40" cy="976.81" rx="5.0" ry="3.25" transform="rotate(-24 679.40 976.81)" fill="#000"/>
<line x1="683.85" y1="975.81" x2="683.85" y2="784.72" stroke="#000" stroke-width="1.2" stroke-linecap="butt"/>
<g transform="translate(668.40 976.81)" stroke="#000" fill="none"><path d="M-1.7 -8.6V10.4M1.7 -10.4V8.6" stroke-width="1.1"/><path d="M-3.9 -2.3L3.9 -4.7M-3.9 4.7L3.9 2.3" stroke-width="2.6"/></g>
<path transform="translate(677.40 987.60)" fill="#000" d="M-2.3 0.1L3.9 5.7L0.6 9.5L3 13.9C0.4 12.5 -1.9 13.7 -1.4 19.8L-2.2 19.8C-5 16.4 -4.5 12 -0.7 11.9L-3.6 8.3L-0.4 4.6L-3 0.7Z"/>
<path transform="translate(704.70 987.60)" fill="#000" d="M-2.3 0.1L3.9 5.7L0.6 9.5L3 13.9C0.4 12.5 -1.9 13.7 -1.4 19.8L-2.2 19.8C-5 16.4 -4.5 12 -0.7 11.9L-3.6 8.3L-0.4 4.6L-3 0.7Z"/>
<path transform="translate(728.10 987.60)" fill="#000" d="M-2.3 0.1L3.9 5.7L0.6 9.5L3 13.9C0.4 12.5 -1.9 13.7 -1.4 19.8L-2.2 19.8C-5 16.4 -4.5 12 -0.7 11.9L-3.6 8.3L-0.4 4.6L-3 0.7Z"/>
<ellipse cx="717.60" cy="851.08" rx="5.0" ry="3.25" transform="rotate(-24 717.60 851.08)" fill="#000"/>
<line x1="722.05" y1="850.08" x2="722.05" y2="784.72" stroke="#000" stroke-width="1.2" stroke-linecap="butt"/>
<g transform="translate(706.50 851.08)" stroke="#000" fill="none"><path d="M-1.7 -8.6V10.4M1.7 -10.4V8.6" stroke-width="1.1"/><path d="M-3.9 -2.3L3.9 -4.7M-3.9 4.7L3.9 2.3" stroke-width="2.6"/></g>
<ellipse cx="743.00" cy="899.97" rx="5.0" ry="3.25" transform="rotate(-24 743.00 899.97)" fill="#000"/>
<line x1="747.45" y1="898.97" x2="747.45" y2="784.72" stroke="#000" stroke-width="1.2" stroke-linecap="butt"/>
<g transform="translate(731.50 899.97)" stroke="#000" fill="none"><path d="M-1.7 -8.6V10.4M1.7 -10.4V8.6" stroke-width="1.1"/><path d="M-3.9 -2.3L3.9 -4.7M-3.9 4.7L3.9 2.3" stroke-width="2.6"/></g>
<ellipse cx="757.00" cy="1029.19" rx="5.0" ry="3.25" transform="rotate(-24 757.00 1029.19)" fill="#000"/>
<line x1="761.45" y1="1028.19" x2="761.45" y2="784.72" stroke="#000" stroke-width="1.2" stroke-linecap="butt"/>
<path transform="translate(755.60 1039.70)" fill="#000" d="M-2.3 0.1L3.9 5.7L0.6 9.5L3 13.9C0.4 12.5 -1.9 13.7 -1.4 19.8L-2.2 19.8C-5 16.4 -4.5 12 -0.7 11.9L-3.6 8.3L-0.4 4.6L-3 0.7Z"/>
<path transform="translate(766.60 1039.70)" fill="#000" d="M-2.3 0.1L3.9 5.7L0.6 9.5L3 13.9C0.4 12.5 -1.9 13.7 -1.4 19.8L-2.2 19.8C-5 16.4 -4.5 12 -0.7 11.9L-3.6 8.3L-0.4 4.6L-3 0.7Z"/>
<ellipse cx="780.20" cy="987.28" rx="5.0" ry="3.25" transform="rotate(-24 780.20 987.28)" fill="#000"/>
<ellipse cx="780.20" cy="1039.67" rx="5.0" ry="3.25" transform="rotate(-24 780.20 1039.67)" fill="#000"/>
<line x1="784.65" y1="1038.67" x2="784.65" y2="784.72" stroke="#000" stroke-width="1.2" stroke-linecap="butt"/>
<path transform="translate(775.90 1050.40)" fill="#000" d="M-2.3 0.1L3.9 5.7L0.6 9.5L3 13.9C0.4 12.5 -1.9 13.7 -1.4 19.8L-2.2 19.8C-5 16.4 -4.5 12 -0.7 11.9L-3.6 8.3L-0.4 4.6L-3 0.7Z"/>
<ellipse cx="794.00" cy="997.76" rx="5.0" ry="3.25" transform="rotate(-24 794.00 997.76)" fill="#000"/>
<line x1="798.45" y1="996.76" x2="798.45" y2="784.72" stroke="#000" stroke-width="1.2" stroke-linecap="butt"/>
<path transform="translate(804.00 1008.20)" fill="#000" d="M-2.3 0.1L3.9 5.7L0.6 9.5L3 13.9C0.4 12.5 -1.9 13.7 -1.4 19.8L-2.2 19.8C-5 16.4 -4.5 12 -0.7 11.9L-3.6 8.3L-0.4 4.6L-3 0.7Z"/>
<path transform="translate(812.50 1008.20)" fill="#000" d="M-2.3 0.1L3.9 5.7L0.6 9.5L3 13.9C0.4 12.5 -1.9 13.7 -1.4 19.8L-2.2 19.8C-5 16.4 -4.5 12 -0.7 11.9L-3.6 8.3L-0.4 4.6L-3 0.7Z"/>
<ellipse cx="828.60" cy="994.27" rx="5.0" ry="3.25" transform="rotate(-24 828.60 994.27)" fill="#000"/>
<line x1="833.05" y1="993.27" x2="833.05" y2="784.72" stroke="#000" stroke-width="1.2" stroke-linecap="butt"/>
<ellipse cx="838.50" cy="802.00" rx="5.0" ry="3.25" transform="rotate(-24 838.50 802.00)" fill="#000"/>
<path d="M106.50 1013.20C119.86 1020.40 167.34 1020.40 180.70 1013.20C167.34 1022.10 119.86 1022.10 106.50 1013.20Z" fill="#000" stroke="#000" stroke-width="0.4"/>
<path d="M185.80 1013.20C190.50 1018.00 199.90 1018.00 204.60 1013.20C199.90 1019.70 190.50 1019.70 185.80 1013.20Z" fill="#000" stroke="#000" stroke-width="0.4"/>
<path d="M64.20 1022.30C74.05 1028.30 93.75 1028.30 103.60 1022.30C93.75 1030.00 74.05 1030.00 64.20 1022.30Z" fill="#000" stroke="#000" stroke-width="0.4"/>
<path d="M127.90 903.40C143.00 909.80 173.20 909.80 188.30 903.40C173.20 911.50 143.00 911.50 127.90 903.40Z" fill="#000" stroke="#000" stroke-width="0.4"/>
<path d="M198.30 903.40C202.08 907.67 209.62 907.67 213.40 903.40C209.62 909.37 202.08 909.37 198.30 903.40Z" fill="#000" stroke="#000" stroke-width="0.4"/>
<path d="M63.80 868.00C79.83 875.17 111.88 874.57 127.90 866.80C111.88 876.27 79.83 876.87 63.80 868.00Z" fill="#000" stroke="#000" stroke-width="0.4"/>
<path d="M63.80 881.90C76.38 888.24 101.52 887.59 114.10 880.60C101.52 889.29 76.38 889.94 63.80 881.90Z" fill="#000" stroke="#000" stroke-width="0.4"/>
<path d="M63.80 913.30C78.25 919.84 107.15 919.59 121.60 912.80C107.15 921.29 78.25 921.54 63.80 913.30Z" fill="#000" stroke="#000" stroke-width="0.4"/>
<path d="M138.00 869.20C167.35 877.43 402.15 877.11 431.50 868.80C402.15 878.81 167.35 879.13 138.00 869.20Z" fill="#000" stroke="#000" stroke-width="0.4"/>
<circle cx="141.00" cy="1019.60" r="0.9" fill="#000"/>
<line x1="75.90" y1="1018.90" x2="94.40" y2="1018.90" stroke="#000" stroke-width="1.4" stroke-linecap="butt"/>
<line x1="75.90" y1="1021.90" x2="94.40" y2="1021.90" stroke="#000" stroke-width="1.4" stroke-linecap="butt"/>
<rect x="80.10" y="1018.90" width="10.50" height="4.50" fill="#000"/>
<circle cx="83.60" cy="1025.00" r="2.0" fill="#000"/>
<line x1="89.00" y1="1022.00" x2="82.20" y2="1054.20" stroke="#000" stroke-width="1.4" stroke-linecap="butt"/>
<circle cx="82.40" cy="1027.80" r="2.0" fill="#000"/>
<path d="M81.9 1029.2 Q85.4 1029.6 87.0 1024.8" stroke="#000" stroke-width="1.1" fill="none"/>
<circle cx="81.90" cy="1035.80" r="2.1" fill="#000"/>
<path d="M81.4 1037.2 Q84.9 1037.6 86.5 1032.8" stroke="#000" stroke-width="1.1" fill="none"/>
<circle cx="80.20" cy="1043.30" r="2.1" fill="#000"/>
<path d="M79.7 1044.7 Q83.2 1045.1 84.8 1040.3" stroke="#000" stroke-width="1.1" fill="none"/>
</svg></body></html>
